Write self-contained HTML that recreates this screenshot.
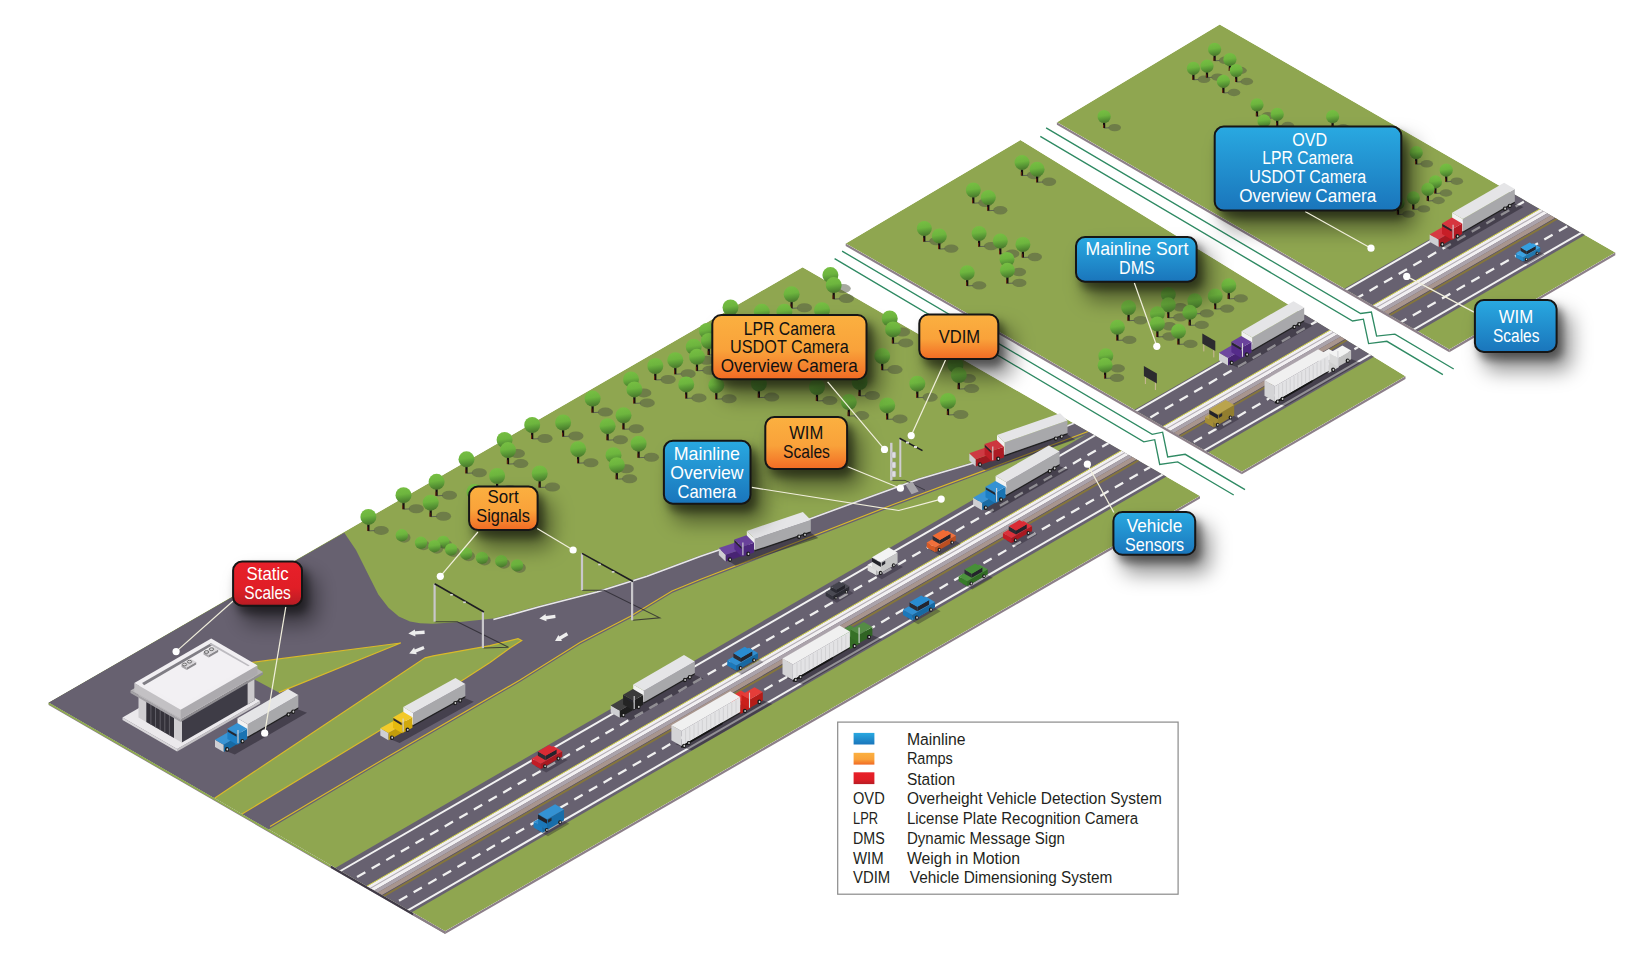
<!DOCTYPE html>
<html><head><meta charset="utf-8"><style>
html,body{margin:0;padding:0;background:#fff;width:1647px;height:957px;overflow:hidden;}
svg{display:block;}
text{font-family:"Liberation Sans",sans-serif;}
</style></head><body>
<svg width="1647" height="957" viewBox="0 0 1647 957">
<defs><clipPath id="cBig"><polygon points="48.6,702.5 802.6,267.3 1200.0,496.0 445.1,931.3"/></clipPath>
<clipPath id="cMid"><polygon points="845.7,243.4 1020.4,140.1 1405.5,376.3 1241.8,471.7"/></clipPath>
<clipPath id="cRgt"><polygon points="1056.9,122.2 1219.7,24.4 1615.3,252.6 1449.3,349.6"/></clipPath>
<linearGradient id="gTree" x1="0" y1="0" x2="0.15" y2="1"><stop offset="0" stop-color="#78c043"/><stop offset="0.5" stop-color="#6db53e"/><stop offset="0.72" stop-color="#5c9d37"/><stop offset="1" stop-color="#4b7c2d"/></linearGradient>
<linearGradient id="gOr" x1="0" y1="0" x2="0" y2="1"><stop offset="0" stop-color="#fbb040"/><stop offset="0.55" stop-color="#f9a23a"/><stop offset="1" stop-color="#f16a24"/></linearGradient>
<linearGradient id="gBl" x1="0" y1="0" x2="0" y2="1"><stop offset="0" stop-color="#29a9e1"/><stop offset="1" stop-color="#1a75bb"/></linearGradient>
<linearGradient id="gRd" x1="0" y1="0" x2="0" y2="1"><stop offset="0" stop-color="#e8202a"/><stop offset="0.6" stop-color="#e01e26"/><stop offset="1" stop-color="#b71c24"/></linearGradient>
<filter id="fSh" x="-50%" y="-50%" width="200%" height="200%"><feGaussianBlur stdDeviation="4"/></filter><filter id="fSh2" x="-60%" y="-60%" width="220%" height="220%"><feGaussianBlur stdDeviation="10"/></filter></defs>
<rect width="1647" height="957" fill="#fff"/>
<polygon points="48.6,702.5 445.1,931.3 445.1,933.9 48.6,705.1" fill="#8d8089"/>
<polygon points="445.1,931.3 1200.0,496.0 1200.0,498.6 445.1,933.9" fill="#8d8089"/>
<polygon points="48.6,702.5 330.9,865.5 330.9,867.3 48.6,704.3" fill="#8fb04a"/>
<polygon points="330.9,865.5 413.2,913.0 413.2,915.4 330.9,867.9" fill="#3f3a46"/>
<polygon points="413.2,913.0 445.1,931.4 445.1,933.8 413.2,915.4" fill="#8a7f86"/>
<polygon points="845.7,243.4 1241.8,471.7 1241.8,474.3 845.7,246.0" fill="#8d8089"/>
<polygon points="1241.8,471.7 1405.5,376.3 1405.5,378.9 1241.8,474.3" fill="#8d8089"/>
<polygon points="1056.9,122.2 1449.3,349.6 1449.3,352.2 1056.9,124.8" fill="#8d8089"/>
<polygon points="1449.3,349.6 1615.3,252.6 1615.3,255.2 1449.3,352.2" fill="#8d8089"/>
<g clip-path="url(#cBig)"><polygon points="48.6,702.5 802.6,267.3 1200.0,496.0 445.1,931.3" fill="#8fa650"/><polygon points="48.6,702.5 344.3,532.8 356.0,550.0 364.0,566.0 371.0,580.0 378.3,594.6 388.5,607.8 398.8,616.6 410.0,621.5 420.0,623.3 432.4,623.8 460.0,622.0 493.4,618.6 538.5,606.1 597.0,591.0 647.1,575.2 700.0,555.6 811.0,517.4 918.6,478.2 980.5,460.0 1074.6,421.9 1120.0,448.0 1090.6,432.9 978.7,474.6 893.1,506.5 809.3,539.3 700.0,581.5 672.0,593.0 630.0,618.5 580.0,644.5 520.0,682.0 383.0,761.5 268.5,829.5 242.0,814.1 464.5,679.0 490.0,662.6 510.0,648.0 521.7,640.5 518.0,638.6 490.0,645.6 433.2,655.8 425.1,657.8 214.5,798.2" fill="#676170"/><polygon points="400.7,643.0 251.3,662.5 248.0,676.0 278.9,692.4" fill="#8fa650"/><polyline points="251.3,662.5 400.7,643.0 278.9,692.4" fill="none" stroke="#d9b92a" stroke-width="1.2"/><polyline points="214.5,798.2 425.1,657.8 433.2,655.8 490.0,645.6 518.0,638.6 521.7,640.5 510.0,648.0 490.0,662.6 464.5,679.0 242.0,814.1" fill="none" stroke="#d9b92a" stroke-width="1.2"/><polyline points="270.0,826.5 383.0,759.5 520.0,680.0 580.0,642.5 630.0,616.5 672.0,591.0 700.0,579.5 809.3,537.3 893.1,504.5 978.7,472.6 1088.0,431.5" fill="none" stroke="#d9b92a" stroke-width="1.2"/><polyline points="493.4,619.6 538.5,607.1 597.0,592.0 647.1,576.2 700.0,556.6 811.0,518.4 918.6,479.2 980.5,461.0 1074.6,422.9" fill="none" stroke="#e9e9e9" stroke-width="1.6"/><polygon points="317.9,878.0 1114.7,418.0 1191.3,462.2 394.6,922.2" fill="#676170"/><polyline points="323.1,881.0 1119.9,421.0" fill="none" stroke="#f2f2f2" stroke-width="2.0"/><polyline points="390.9,920.1 1187.6,460.1" fill="none" stroke="#f2f2f2" stroke-width="2.0"/><polyline points="336.6,888.8 1133.3,428.8" fill="none" stroke="#f0f0f0" stroke-width="2.3" stroke-dasharray="9.6 7.27" stroke-dashoffset="10.13"/><polyline points="378.1,912.8 1174.9,452.8" fill="none" stroke="#f0f0f0" stroke-width="2.3" stroke-dasharray="9.6 7.27" stroke-dashoffset="9.62"/><polygon points="349.6,896.3 1146.4,436.3 1153.6,440.5 356.9,900.5" fill="#f2f0f2"/><polygon points="352.6,898.0 1149.3,438.0 1150.4,438.6 353.7,898.6" fill="#b2acb4"/><polygon points="356.9,900.5 1153.6,440.5 1157.3,442.6 360.5,902.6" fill="#aba3ab"/><polygon points="360.5,902.6 1157.3,442.6 1161.6,445.1 364.9,905.1" fill="#a8958d"/><polygon points="364.9,905.1 1161.6,445.1 1162.3,445.5 365.6,905.5" fill="#5f5660"/><polygon points="365.6,905.5 1162.3,445.5 1164.3,446.6 367.6,906.6" fill="#85763c"/><polyline points="349.5,896.2 1146.2,436.2" fill="none" stroke="#cfd04a" stroke-width="1.0"/></g>
<g clip-path="url(#cMid)"><polygon points="845.7,243.4 1020.4,140.1 1405.5,376.3 1241.8,471.7" fill="#8fa650"/><polygon points="1117.5,419.6 1325.4,299.6 1399.2,342.2 1191.3,462.2" fill="#676170"/><polyline points="1119.4,420.7 1327.2,300.7" fill="none" stroke="#f2f2f2" stroke-width="2.0"/><polyline points="1187.6,460.1 1395.4,340.1" fill="none" stroke="#f2f2f2" stroke-width="2.0"/><polyline points="1132.0,428.0 1339.8,308.0" fill="none" stroke="#f0f0f0" stroke-width="2.3" stroke-dasharray="9.6 7.27" stroke-dashoffset="12.55"/><polyline points="1174.9,452.8 1382.7,332.8" fill="none" stroke="#f0f0f0" stroke-width="2.3" stroke-dasharray="9.6 7.27" stroke-dashoffset="12.04"/><polygon points="1146.4,436.3 1354.2,316.3 1361.5,320.5 1153.6,440.5" fill="#f2f0f2"/><polygon points="1149.3,438.0 1357.2,318.0 1358.3,318.6 1150.4,438.6" fill="#b2acb4"/><polygon points="1153.6,440.5 1361.5,320.5 1365.1,322.6 1157.3,442.6" fill="#aba3ab"/><polygon points="1157.3,442.6 1365.1,322.6 1369.5,325.1 1161.6,445.1" fill="#a8958d"/><polygon points="1161.6,445.1 1369.5,325.1 1370.2,325.5 1162.3,445.5" fill="#5f5660"/><polygon points="1162.3,445.5 1370.2,325.5 1372.1,326.6 1164.3,446.6" fill="#85763c"/><polyline points="1146.2,436.2 1354.0,316.2" fill="none" stroke="#cfd04a" stroke-width="1.0"/></g>
<g clip-path="url(#cRgt)"><polygon points="1056.9,122.2 1219.7,24.4 1615.3,252.6 1449.3,349.6" fill="#8fa650"/><polygon points="1325.4,299.6 1533.2,179.6 1607.0,222.2 1399.2,342.2" fill="#676170"/><polyline points="1327.2,300.7 1535.0,180.7" fill="none" stroke="#f2f2f2" stroke-width="2.0"/><polyline points="1395.4,340.1 1603.3,220.1" fill="none" stroke="#f2f2f2" stroke-width="2.0"/><polyline points="1339.8,308.0 1547.7,188.0" fill="none" stroke="#f0f0f0" stroke-width="2.3" stroke-dasharray="9.6 7.27" stroke-dashoffset="16.37"/><polyline points="1382.7,332.8 1590.6,212.8" fill="none" stroke="#f0f0f0" stroke-width="2.3" stroke-dasharray="9.6 7.27" stroke-dashoffset="15.86"/><polygon points="1354.2,316.3 1562.1,196.3 1569.3,200.5 1361.5,320.5" fill="#f2f0f2"/><polygon points="1357.2,318.0 1565.0,198.0 1566.1,198.6 1358.3,318.6" fill="#b2acb4"/><polygon points="1361.5,320.5 1569.3,200.5 1573.0,202.6 1365.1,322.6" fill="#aba3ab"/><polygon points="1365.1,322.6 1573.0,202.6 1577.3,205.1 1369.5,325.1" fill="#a8958d"/><polygon points="1369.5,325.1 1577.3,205.1 1578.0,205.5 1370.2,325.5" fill="#5f5660"/><polygon points="1370.2,325.5 1578.0,205.5 1580.0,206.6 1372.1,326.6" fill="#85763c"/><polyline points="1354.0,316.2 1561.9,196.2" fill="none" stroke="#cfd04a" stroke-width="1.0"/></g>
<polyline points="842.1,251.1 1152.2,434.3 1162.6,432.2 1167.7,456.9 1185.2,454.3 1245.0,489.7" fill="none" stroke="#2f8a63" stroke-width="1.35"/>
<polyline points="834.6,258.6 1143.8,441.8 1154.7,439.7 1159.7,464.4 1177.7,461.9 1233.7,495.0" fill="none" stroke="#2f8a63" stroke-width="1.35"/>
<polyline points="1046.1,127.9 1360.6,313.5 1371.4,312.1 1376.6,336.1 1394.9,334.2 1453.7,369.0" fill="none" stroke="#2f8a63" stroke-width="1.35"/>
<polyline points="1040.3,136.4 1352.6,321.0 1363.4,319.2 1368.6,343.6 1386.9,341.3 1442.9,374.7" fill="none" stroke="#2f8a63" stroke-width="1.35"/>
<ellipse cx="404.3" cy="537.8" rx="6.2" ry="5.0" fill="#4d5340" fill-opacity="0.45"/><circle cx="401.8" cy="535.3" r="6.2" fill="url(#gTree)"/>
<ellipse cx="423.5" cy="545.3" rx="6.2" ry="5.0" fill="#4d5340" fill-opacity="0.45"/><circle cx="421.0" cy="542.8" r="6.2" fill="url(#gTree)"/>
<ellipse cx="445.8" cy="544.5" rx="6.2" ry="5.0" fill="#4d5340" fill-opacity="0.45"/><circle cx="443.3" cy="542.0" r="6.2" fill="url(#gTree)"/>
<ellipse cx="436.9" cy="548.7" rx="6.2" ry="5.0" fill="#4d5340" fill-opacity="0.45"/><circle cx="434.4" cy="546.2" r="6.2" fill="url(#gTree)"/>
<ellipse cx="453.6" cy="552.0" rx="6.2" ry="5.0" fill="#4d5340" fill-opacity="0.45"/><circle cx="451.1" cy="549.5" r="6.2" fill="url(#gTree)"/>
<ellipse cx="468.7" cy="556.2" rx="6.2" ry="5.0" fill="#4d5340" fill-opacity="0.45"/><circle cx="466.2" cy="553.7" r="6.2" fill="url(#gTree)"/>
<ellipse cx="484.5" cy="560.4" rx="6.2" ry="5.0" fill="#4d5340" fill-opacity="0.45"/><circle cx="482.0" cy="557.9" r="6.2" fill="url(#gTree)"/>
<ellipse cx="503.8" cy="563.7" rx="6.2" ry="5.0" fill="#4d5340" fill-opacity="0.45"/><circle cx="501.3" cy="561.2" r="6.2" fill="url(#gTree)"/>
<ellipse cx="519.6" cy="567.9" rx="6.2" ry="5.0" fill="#4d5340" fill-opacity="0.45"/><circle cx="517.1" cy="565.4" r="6.2" fill="url(#gTree)"/>
<ellipse cx="381.2" cy="530.4" rx="7.6" ry="4.5" fill="#4d5340" fill-opacity="0.5"/><line x1="368.4" y1="530.9" x2="374.8" y2="530.6" stroke="#5d6450" stroke-width="1"/>
<ellipse cx="416.3" cy="508.7" rx="7.6" ry="4.5" fill="#4d5340" fill-opacity="0.5"/><line x1="403.5" y1="509.2" x2="409.9" y2="508.9" stroke="#5d6450" stroke-width="1"/>
<ellipse cx="449.4" cy="495.3" rx="7.6" ry="4.5" fill="#4d5340" fill-opacity="0.5"/><line x1="436.6" y1="495.8" x2="443.0" y2="495.5" stroke="#5d6450" stroke-width="1"/>
<ellipse cx="443.5" cy="516.2" rx="7.6" ry="4.5" fill="#4d5340" fill-opacity="0.5"/><line x1="430.7" y1="516.7" x2="437.1" y2="516.4" stroke="#5d6450" stroke-width="1"/>
<ellipse cx="479.3" cy="472.8" rx="7.6" ry="4.5" fill="#4d5340" fill-opacity="0.5"/><line x1="466.5" y1="473.3" x2="472.9" y2="473.0" stroke="#5d6450" stroke-width="1"/>
<ellipse cx="517.4" cy="453.5" rx="7.6" ry="4.5" fill="#4d5340" fill-opacity="0.5"/><line x1="504.6" y1="454.0" x2="511.0" y2="453.7" stroke="#5d6450" stroke-width="1"/>
<ellipse cx="520.8" cy="463.6" rx="7.6" ry="4.5" fill="#4d5340" fill-opacity="0.5"/><line x1="508.0" y1="464.1" x2="514.4" y2="463.8" stroke="#5d6450" stroke-width="1"/>
<ellipse cx="509.9" cy="489.5" rx="7.6" ry="4.5" fill="#4d5340" fill-opacity="0.5"/><line x1="497.1" y1="490.0" x2="503.5" y2="489.7" stroke="#5d6450" stroke-width="1"/>
<ellipse cx="487.3" cy="505.4" rx="7.6" ry="4.5" fill="#4d5340" fill-opacity="0.5"/><line x1="474.5" y1="505.9" x2="480.9" y2="505.6" stroke="#5d6450" stroke-width="1"/>
<ellipse cx="552.5" cy="487.0" rx="7.6" ry="4.5" fill="#4d5340" fill-opacity="0.5"/><line x1="539.7" y1="487.5" x2="546.1" y2="487.2" stroke="#5d6450" stroke-width="1"/>
<ellipse cx="545.0" cy="438.5" rx="7.6" ry="4.5" fill="#4d5340" fill-opacity="0.5"/><line x1="532.2" y1="439.0" x2="538.6" y2="438.7" stroke="#5d6450" stroke-width="1"/>
<ellipse cx="575.9" cy="436.0" rx="7.6" ry="4.5" fill="#4d5340" fill-opacity="0.5"/><line x1="563.1" y1="436.5" x2="569.5" y2="436.2" stroke="#5d6450" stroke-width="1"/>
<ellipse cx="590.9" cy="462.7" rx="7.6" ry="4.5" fill="#4d5340" fill-opacity="0.5"/><line x1="578.1" y1="463.2" x2="584.5" y2="462.9" stroke="#5d6450" stroke-width="1"/>
<ellipse cx="605.4" cy="412.1" rx="7.6" ry="4.5" fill="#4d5340" fill-opacity="0.5"/><line x1="592.6" y1="412.6" x2="599.0" y2="412.3" stroke="#5d6450" stroke-width="1"/>
<ellipse cx="643.8" cy="392.9" rx="7.6" ry="4.5" fill="#4d5340" fill-opacity="0.5"/><line x1="631.0" y1="393.4" x2="637.4" y2="393.1" stroke="#5d6450" stroke-width="1"/>
<ellipse cx="647.2" cy="402.9" rx="7.6" ry="4.5" fill="#4d5340" fill-opacity="0.5"/><line x1="634.4" y1="403.4" x2="640.8" y2="403.1" stroke="#5d6450" stroke-width="1"/>
<ellipse cx="668.1" cy="379.5" rx="7.6" ry="4.5" fill="#4d5340" fill-opacity="0.5"/><line x1="655.3" y1="380.0" x2="661.7" y2="379.7" stroke="#5d6450" stroke-width="1"/>
<ellipse cx="688.1" cy="373.7" rx="7.6" ry="4.5" fill="#4d5340" fill-opacity="0.5"/><line x1="675.3" y1="374.2" x2="681.7" y2="373.9" stroke="#5d6450" stroke-width="1"/>
<ellipse cx="706.5" cy="360.3" rx="7.6" ry="4.5" fill="#4d5340" fill-opacity="0.5"/><line x1="693.7" y1="360.8" x2="700.1" y2="360.5" stroke="#5d6450" stroke-width="1"/>
<ellipse cx="709.8" cy="370.3" rx="7.6" ry="4.5" fill="#4d5340" fill-opacity="0.5"/><line x1="697.0" y1="370.8" x2="703.4" y2="370.5" stroke="#5d6450" stroke-width="1"/>
<ellipse cx="719.8" cy="344.4" rx="7.6" ry="4.5" fill="#4d5340" fill-opacity="0.5"/><line x1="707.0" y1="344.9" x2="713.4" y2="344.6" stroke="#5d6450" stroke-width="1"/>
<ellipse cx="721.6" cy="354.5" rx="7.6" ry="4.5" fill="#4d5340" fill-opacity="0.5"/><line x1="708.8" y1="355.0" x2="715.2" y2="354.7" stroke="#5d6450" stroke-width="1"/>
<ellipse cx="743.3" cy="321.0" rx="7.6" ry="4.5" fill="#4d5340" fill-opacity="0.5"/><line x1="730.5" y1="321.5" x2="736.9" y2="321.2" stroke="#5d6450" stroke-width="1"/>
<ellipse cx="699.0" cy="397.9" rx="7.6" ry="4.5" fill="#4d5340" fill-opacity="0.5"/><line x1="686.2" y1="398.4" x2="692.6" y2="398.1" stroke="#5d6450" stroke-width="1"/>
<ellipse cx="729.1" cy="398.7" rx="7.6" ry="4.5" fill="#4d5340" fill-opacity="0.5"/><line x1="716.3" y1="399.2" x2="722.7" y2="398.9" stroke="#5d6450" stroke-width="1"/>
<ellipse cx="636.3" cy="428.8" rx="7.6" ry="4.5" fill="#4d5340" fill-opacity="0.5"/><line x1="623.5" y1="429.3" x2="629.9" y2="429.0" stroke="#5d6450" stroke-width="1"/>
<ellipse cx="620.4" cy="439.7" rx="7.6" ry="4.5" fill="#4d5340" fill-opacity="0.5"/><line x1="607.6" y1="440.2" x2="614.0" y2="439.9" stroke="#5d6450" stroke-width="1"/>
<ellipse cx="651.4" cy="457.2" rx="7.6" ry="4.5" fill="#4d5340" fill-opacity="0.5"/><line x1="638.6" y1="457.7" x2="645.0" y2="457.4" stroke="#5d6450" stroke-width="1"/>
<ellipse cx="626.3" cy="468.7" rx="7.6" ry="4.5" fill="#4d5340" fill-opacity="0.5"/><line x1="613.5" y1="469.2" x2="619.9" y2="468.9" stroke="#5d6450" stroke-width="1"/>
<ellipse cx="629.6" cy="478.7" rx="7.6" ry="4.5" fill="#4d5340" fill-opacity="0.5"/><line x1="616.8" y1="479.2" x2="623.2" y2="478.9" stroke="#5d6450" stroke-width="1"/>
<ellipse cx="771.7" cy="397.1" rx="7.6" ry="4.5" fill="#4d5340" fill-opacity="0.5"/><line x1="758.9" y1="397.6" x2="765.3" y2="397.3" stroke="#5d6450" stroke-width="1"/>
<ellipse cx="843.2" cy="288.6" rx="7.6" ry="4.5" fill="#4d5340" fill-opacity="0.5"/><line x1="830.4" y1="289.1" x2="836.8" y2="288.8" stroke="#5d6450" stroke-width="1"/>
<ellipse cx="846.5" cy="298.6" rx="7.6" ry="4.5" fill="#4d5340" fill-opacity="0.5"/><line x1="833.7" y1="299.1" x2="840.1" y2="298.8" stroke="#5d6450" stroke-width="1"/>
<ellipse cx="804.4" cy="307.8" rx="7.6" ry="4.5" fill="#4d5340" fill-opacity="0.5"/><line x1="791.6" y1="308.3" x2="798.0" y2="308.0" stroke="#5d6450" stroke-width="1"/>
<ellipse cx="834.8" cy="323.7" rx="7.6" ry="4.5" fill="#4d5340" fill-opacity="0.5"/><line x1="822.0" y1="324.2" x2="828.4" y2="323.9" stroke="#5d6450" stroke-width="1"/>
<ellipse cx="774.6" cy="325.3" rx="7.6" ry="4.5" fill="#4d5340" fill-opacity="0.5"/><line x1="761.8" y1="325.8" x2="768.2" y2="325.5" stroke="#5d6450" stroke-width="1"/>
<ellipse cx="797.2" cy="325.3" rx="7.6" ry="4.5" fill="#4d5340" fill-opacity="0.5"/><line x1="784.4" y1="325.8" x2="790.8" y2="325.5" stroke="#5d6450" stroke-width="1"/>
<ellipse cx="902.5" cy="332.0" rx="7.6" ry="4.5" fill="#4d5340" fill-opacity="0.5"/><line x1="889.7" y1="332.5" x2="896.1" y2="332.2" stroke="#5d6450" stroke-width="1"/>
<ellipse cx="905.8" cy="342.9" rx="7.6" ry="4.5" fill="#4d5340" fill-opacity="0.5"/><line x1="893.0" y1="343.4" x2="899.4" y2="343.1" stroke="#5d6450" stroke-width="1"/>
<ellipse cx="895.0" cy="369.6" rx="7.6" ry="4.5" fill="#4d5340" fill-opacity="0.5"/><line x1="882.2" y1="370.1" x2="888.6" y2="369.8" stroke="#5d6450" stroke-width="1"/>
<ellipse cx="930.1" cy="397.2" rx="7.6" ry="4.5" fill="#4d5340" fill-opacity="0.5"/><line x1="917.3" y1="397.7" x2="923.7" y2="397.4" stroke="#5d6450" stroke-width="1"/>
<ellipse cx="829.8" cy="400.5" rx="7.6" ry="4.5" fill="#4d5340" fill-opacity="0.5"/><line x1="817.0" y1="401.0" x2="823.4" y2="400.7" stroke="#5d6450" stroke-width="1"/>
<ellipse cx="872.4" cy="395.5" rx="7.6" ry="4.5" fill="#4d5340" fill-opacity="0.5"/><line x1="859.6" y1="396.0" x2="866.0" y2="395.7" stroke="#5d6450" stroke-width="1"/>
<ellipse cx="861.6" cy="415.6" rx="7.6" ry="4.5" fill="#4d5340" fill-opacity="0.5"/><line x1="848.8" y1="416.1" x2="855.2" y2="415.8" stroke="#5d6450" stroke-width="1"/>
<ellipse cx="900.0" cy="418.9" rx="7.6" ry="4.5" fill="#4d5340" fill-opacity="0.5"/><line x1="887.2" y1="419.4" x2="893.6" y2="419.1" stroke="#5d6450" stroke-width="1"/>
<ellipse cx="960.8" cy="414.5" rx="7.6" ry="4.5" fill="#4d5340" fill-opacity="0.5"/><line x1="948.0" y1="415.0" x2="954.4" y2="414.7" stroke="#5d6450" stroke-width="1"/>
<ellipse cx="968.3" cy="378.5" rx="7.6" ry="4.5" fill="#4d5340" fill-opacity="0.5"/><line x1="955.5" y1="379.0" x2="961.9" y2="378.7" stroke="#5d6450" stroke-width="1"/>
<ellipse cx="971.6" cy="388.6" rx="7.6" ry="4.5" fill="#4d5340" fill-opacity="0.5"/><line x1="958.8" y1="389.1" x2="965.2" y2="388.8" stroke="#5d6450" stroke-width="1"/>
<rect x="829.3" y="275.1" width="2.2" height="14.0" fill="#140c10"/><rect x="829.3" y="285.2" width="0.8" height="3.9" fill="#7a2a10"/><circle cx="830.4" cy="275.1" r="8.0" fill="url(#gTree)"/>
<rect x="832.6" y="285.1" width="2.2" height="14.0" fill="#140c10"/><rect x="832.6" y="295.2" width="0.8" height="3.9" fill="#7a2a10"/><circle cx="833.7" cy="285.1" r="8.0" fill="url(#gTree)"/>
<rect x="790.5" y="294.3" width="2.2" height="14.0" fill="#140c10"/><rect x="790.5" y="304.4" width="0.8" height="3.9" fill="#7a2a10"/><circle cx="791.6" cy="294.3" r="8.0" fill="url(#gTree)"/>
<rect x="729.4" y="307.5" width="2.2" height="14.0" fill="#140c10"/><rect x="729.4" y="317.6" width="0.8" height="3.9" fill="#7a2a10"/><circle cx="730.5" cy="307.5" r="8.0" fill="url(#gTree)"/>
<rect x="820.9" y="310.2" width="2.2" height="14.0" fill="#140c10"/><rect x="820.9" y="320.3" width="0.8" height="3.9" fill="#7a2a10"/><circle cx="822.0" cy="310.2" r="8.0" fill="url(#gTree)"/>
<rect x="760.7" y="311.8" width="2.2" height="14.0" fill="#140c10"/><rect x="760.7" y="321.9" width="0.8" height="3.9" fill="#7a2a10"/><circle cx="761.8" cy="311.8" r="8.0" fill="url(#gTree)"/>
<rect x="783.3" y="311.8" width="2.2" height="14.0" fill="#140c10"/><rect x="783.3" y="321.9" width="0.8" height="3.9" fill="#7a2a10"/><circle cx="784.4" cy="311.8" r="8.0" fill="url(#gTree)"/>
<rect x="888.6" y="318.5" width="2.2" height="14.0" fill="#140c10"/><rect x="888.6" y="328.6" width="0.8" height="3.9" fill="#7a2a10"/><circle cx="889.7" cy="318.5" r="8.0" fill="url(#gTree)"/>
<rect x="891.9" y="329.4" width="2.2" height="14.0" fill="#140c10"/><rect x="891.9" y="339.5" width="0.8" height="3.9" fill="#7a2a10"/><circle cx="893.0" cy="329.4" r="8.0" fill="url(#gTree)"/>
<rect x="705.9" y="330.9" width="2.2" height="14.0" fill="#140c10"/><rect x="705.9" y="341.0" width="0.8" height="3.9" fill="#7a2a10"/><circle cx="707.0" cy="330.9" r="8.0" fill="url(#gTree)"/>
<rect x="707.7" y="341.0" width="2.2" height="14.0" fill="#140c10"/><rect x="707.7" y="351.1" width="0.8" height="3.9" fill="#7a2a10"/><circle cx="708.8" cy="341.0" r="8.0" fill="url(#gTree)"/>
<rect x="692.6" y="346.8" width="2.2" height="14.0" fill="#140c10"/><rect x="692.6" y="356.9" width="0.8" height="3.9" fill="#7a2a10"/><circle cx="693.7" cy="346.8" r="8.0" fill="url(#gTree)"/>
<rect x="881.1" y="356.1" width="2.2" height="14.0" fill="#140c10"/><rect x="881.1" y="366.2" width="0.8" height="3.9" fill="#7a2a10"/><circle cx="882.2" cy="356.1" r="8.0" fill="url(#gTree)"/>
<rect x="695.9" y="356.8" width="2.2" height="14.0" fill="#140c10"/><rect x="695.9" y="366.9" width="0.8" height="3.9" fill="#7a2a10"/><circle cx="697.0" cy="356.8" r="8.0" fill="url(#gTree)"/>
<rect x="674.2" y="360.2" width="2.2" height="14.0" fill="#140c10"/><rect x="674.2" y="370.3" width="0.8" height="3.9" fill="#7a2a10"/><circle cx="675.3" cy="360.2" r="8.0" fill="url(#gTree)"/>
<rect x="954.4" y="365.0" width="2.2" height="14.0" fill="#140c10"/><rect x="954.4" y="375.1" width="0.8" height="3.9" fill="#7a2a10"/><circle cx="955.5" cy="365.0" r="8.0" fill="url(#gTree)"/>
<rect x="654.2" y="366.0" width="2.2" height="14.0" fill="#140c10"/><rect x="654.2" y="376.1" width="0.8" height="3.9" fill="#7a2a10"/><circle cx="655.3" cy="366.0" r="8.0" fill="url(#gTree)"/>
<rect x="957.7" y="375.1" width="2.2" height="14.0" fill="#140c10"/><rect x="957.7" y="385.2" width="0.8" height="3.9" fill="#7a2a10"/><circle cx="958.8" cy="375.1" r="8.0" fill="url(#gTree)"/>
<rect x="629.9" y="379.4" width="2.2" height="14.0" fill="#140c10"/><rect x="629.9" y="389.5" width="0.8" height="3.9" fill="#7a2a10"/><circle cx="631.0" cy="379.4" r="8.0" fill="url(#gTree)"/>
<rect x="858.5" y="382.0" width="2.2" height="14.0" fill="#140c10"/><rect x="858.5" y="392.1" width="0.8" height="3.9" fill="#7a2a10"/><circle cx="859.6" cy="382.0" r="8.0" fill="url(#gTree)"/>
<rect x="757.8" y="383.6" width="2.2" height="14.0" fill="#140c10"/><rect x="757.8" y="393.7" width="0.8" height="3.9" fill="#7a2a10"/><circle cx="758.9" cy="383.6" r="8.0" fill="url(#gTree)"/>
<rect x="916.2" y="383.7" width="2.2" height="14.0" fill="#140c10"/><rect x="916.2" y="393.8" width="0.8" height="3.9" fill="#7a2a10"/><circle cx="917.3" cy="383.7" r="8.0" fill="url(#gTree)"/>
<rect x="685.1" y="384.4" width="2.2" height="14.0" fill="#140c10"/><rect x="685.1" y="394.5" width="0.8" height="3.9" fill="#7a2a10"/><circle cx="686.2" cy="384.4" r="8.0" fill="url(#gTree)"/>
<rect x="715.2" y="385.2" width="2.2" height="14.0" fill="#140c10"/><rect x="715.2" y="395.3" width="0.8" height="3.9" fill="#7a2a10"/><circle cx="716.3" cy="385.2" r="8.0" fill="url(#gTree)"/>
<rect x="815.9" y="387.0" width="2.2" height="14.0" fill="#140c10"/><rect x="815.9" y="397.1" width="0.8" height="3.9" fill="#7a2a10"/><circle cx="817.0" cy="387.0" r="8.0" fill="url(#gTree)"/>
<rect x="633.3" y="389.4" width="2.2" height="14.0" fill="#140c10"/><rect x="633.3" y="399.5" width="0.8" height="3.9" fill="#7a2a10"/><circle cx="634.4" cy="389.4" r="8.0" fill="url(#gTree)"/>
<rect x="591.5" y="398.6" width="2.2" height="14.0" fill="#140c10"/><rect x="591.5" y="408.7" width="0.8" height="3.9" fill="#7a2a10"/><circle cx="592.6" cy="398.6" r="8.0" fill="url(#gTree)"/>
<rect x="946.9" y="401.0" width="2.2" height="14.0" fill="#140c10"/><rect x="946.9" y="411.1" width="0.8" height="3.9" fill="#7a2a10"/><circle cx="948.0" cy="401.0" r="8.0" fill="url(#gTree)"/>
<rect x="847.7" y="402.1" width="2.2" height="14.0" fill="#140c10"/><rect x="847.7" y="412.2" width="0.8" height="3.9" fill="#7a2a10"/><circle cx="848.8" cy="402.1" r="8.0" fill="url(#gTree)"/>
<rect x="886.1" y="405.4" width="2.2" height="14.0" fill="#140c10"/><rect x="886.1" y="415.5" width="0.8" height="3.9" fill="#7a2a10"/><circle cx="887.2" cy="405.4" r="8.0" fill="url(#gTree)"/>
<rect x="622.4" y="415.3" width="2.2" height="14.0" fill="#140c10"/><rect x="622.4" y="425.4" width="0.8" height="3.9" fill="#7a2a10"/><circle cx="623.5" cy="415.3" r="8.0" fill="url(#gTree)"/>
<rect x="562.0" y="422.5" width="2.2" height="14.0" fill="#140c10"/><rect x="562.0" y="432.6" width="0.8" height="3.9" fill="#7a2a10"/><circle cx="563.1" cy="422.5" r="8.0" fill="url(#gTree)"/>
<rect x="531.1" y="425.0" width="2.2" height="14.0" fill="#140c10"/><rect x="531.1" y="435.1" width="0.8" height="3.9" fill="#7a2a10"/><circle cx="532.2" cy="425.0" r="8.0" fill="url(#gTree)"/>
<rect x="606.5" y="426.2" width="2.2" height="14.0" fill="#140c10"/><rect x="606.5" y="436.3" width="0.8" height="3.9" fill="#7a2a10"/><circle cx="607.6" cy="426.2" r="8.0" fill="url(#gTree)"/>
<rect x="503.5" y="440.0" width="2.2" height="14.0" fill="#140c10"/><rect x="503.5" y="450.1" width="0.8" height="3.9" fill="#7a2a10"/><circle cx="504.6" cy="440.0" r="8.0" fill="url(#gTree)"/>
<rect x="637.5" y="443.7" width="2.2" height="14.0" fill="#140c10"/><rect x="637.5" y="453.8" width="0.8" height="3.9" fill="#7a2a10"/><circle cx="638.6" cy="443.7" r="8.0" fill="url(#gTree)"/>
<rect x="577.0" y="449.2" width="2.2" height="14.0" fill="#140c10"/><rect x="577.0" y="459.3" width="0.8" height="3.9" fill="#7a2a10"/><circle cx="578.1" cy="449.2" r="8.0" fill="url(#gTree)"/>
<rect x="506.9" y="450.1" width="2.2" height="14.0" fill="#140c10"/><rect x="506.9" y="460.2" width="0.8" height="3.9" fill="#7a2a10"/><circle cx="508.0" cy="450.1" r="8.0" fill="url(#gTree)"/>
<rect x="612.4" y="455.2" width="2.2" height="14.0" fill="#140c10"/><rect x="612.4" y="465.3" width="0.8" height="3.9" fill="#7a2a10"/><circle cx="613.5" cy="455.2" r="8.0" fill="url(#gTree)"/>
<rect x="465.4" y="459.3" width="2.2" height="14.0" fill="#140c10"/><rect x="465.4" y="469.4" width="0.8" height="3.9" fill="#7a2a10"/><circle cx="466.5" cy="459.3" r="8.0" fill="url(#gTree)"/>
<rect x="615.7" y="465.2" width="2.2" height="14.0" fill="#140c10"/><rect x="615.7" y="475.3" width="0.8" height="3.9" fill="#7a2a10"/><circle cx="616.8" cy="465.2" r="8.0" fill="url(#gTree)"/>
<rect x="538.6" y="473.5" width="2.2" height="14.0" fill="#140c10"/><rect x="538.6" y="483.6" width="0.8" height="3.9" fill="#7a2a10"/><circle cx="539.7" cy="473.5" r="8.0" fill="url(#gTree)"/>
<rect x="496.0" y="476.0" width="2.2" height="14.0" fill="#140c10"/><rect x="496.0" y="486.1" width="0.8" height="3.9" fill="#7a2a10"/><circle cx="497.1" cy="476.0" r="8.0" fill="url(#gTree)"/>
<rect x="435.5" y="481.8" width="2.2" height="14.0" fill="#140c10"/><rect x="435.5" y="491.9" width="0.8" height="3.9" fill="#7a2a10"/><circle cx="436.6" cy="481.8" r="8.0" fill="url(#gTree)"/>
<rect x="473.4" y="491.9" width="2.2" height="14.0" fill="#140c10"/><rect x="473.4" y="502.0" width="0.8" height="3.9" fill="#7a2a10"/><circle cx="474.5" cy="491.9" r="8.0" fill="url(#gTree)"/>
<rect x="402.4" y="495.2" width="2.2" height="14.0" fill="#140c10"/><rect x="402.4" y="505.3" width="0.8" height="3.9" fill="#7a2a10"/><circle cx="403.5" cy="495.2" r="8.0" fill="url(#gTree)"/>
<rect x="429.6" y="502.7" width="2.2" height="14.0" fill="#140c10"/><rect x="429.6" y="512.8" width="0.8" height="3.9" fill="#7a2a10"/><circle cx="430.7" cy="502.7" r="8.0" fill="url(#gTree)"/>
<rect x="367.3" y="516.9" width="2.2" height="14.0" fill="#140c10"/><rect x="367.3" y="527.0" width="0.8" height="3.9" fill="#7a2a10"/><circle cx="368.4" cy="516.9" r="8.0" fill="url(#gTree)"/>
<ellipse cx="1034.0" cy="175.1" rx="7.1" ry="4.2" fill="#4d5340" fill-opacity="0.5"/><line x1="1022.0" y1="175.6" x2="1028.0" y2="175.3" stroke="#5d6450" stroke-width="1"/>
<ellipse cx="1049.1" cy="181.8" rx="7.1" ry="4.2" fill="#4d5340" fill-opacity="0.5"/><line x1="1037.1" y1="182.3" x2="1043.1" y2="182.0" stroke="#5d6450" stroke-width="1"/>
<ellipse cx="985.3" cy="202.7" rx="7.1" ry="4.2" fill="#4d5340" fill-opacity="0.5"/><line x1="973.3" y1="203.2" x2="979.3" y2="202.9" stroke="#5d6450" stroke-width="1"/>
<ellipse cx="1000.3" cy="210.2" rx="7.1" ry="4.2" fill="#4d5340" fill-opacity="0.5"/><line x1="988.3" y1="210.7" x2="994.3" y2="210.4" stroke="#5d6450" stroke-width="1"/>
<ellipse cx="936.3" cy="241.1" rx="7.1" ry="4.2" fill="#4d5340" fill-opacity="0.5"/><line x1="924.3" y1="241.6" x2="930.3" y2="241.3" stroke="#5d6450" stroke-width="1"/>
<ellipse cx="951.3" cy="248.6" rx="7.1" ry="4.2" fill="#4d5340" fill-opacity="0.5"/><line x1="939.3" y1="249.1" x2="945.3" y2="248.8" stroke="#5d6450" stroke-width="1"/>
<ellipse cx="991.1" cy="246.1" rx="7.1" ry="4.2" fill="#4d5340" fill-opacity="0.5"/><line x1="979.1" y1="246.6" x2="985.1" y2="246.3" stroke="#5d6450" stroke-width="1"/>
<ellipse cx="1012.3" cy="253.7" rx="7.1" ry="4.2" fill="#4d5340" fill-opacity="0.5"/><line x1="1000.3" y1="254.2" x2="1006.3" y2="253.9" stroke="#5d6450" stroke-width="1"/>
<ellipse cx="1034.9" cy="257.0" rx="7.1" ry="4.2" fill="#4d5340" fill-opacity="0.5"/><line x1="1022.9" y1="257.5" x2="1028.9" y2="257.2" stroke="#5d6450" stroke-width="1"/>
<ellipse cx="1019.0" cy="272.0" rx="7.1" ry="4.2" fill="#4d5340" fill-opacity="0.5"/><line x1="1007.0" y1="272.5" x2="1013.0" y2="272.2" stroke="#5d6450" stroke-width="1"/>
<ellipse cx="1019.4" cy="282.9" rx="7.1" ry="4.2" fill="#4d5340" fill-opacity="0.5"/><line x1="1007.4" y1="283.4" x2="1013.4" y2="283.1" stroke="#5d6450" stroke-width="1"/>
<ellipse cx="979.2" cy="285.4" rx="7.1" ry="4.2" fill="#4d5340" fill-opacity="0.5"/><line x1="967.2" y1="285.9" x2="973.2" y2="285.6" stroke="#5d6450" stroke-width="1"/>
<ellipse cx="1180.3" cy="307.2" rx="7.1" ry="4.2" fill="#4d5340" fill-opacity="0.5"/><line x1="1168.3" y1="307.7" x2="1174.3" y2="307.4" stroke="#5d6450" stroke-width="1"/>
<ellipse cx="1180.3" cy="317.4" rx="7.1" ry="4.2" fill="#4d5340" fill-opacity="0.5"/><line x1="1168.3" y1="317.9" x2="1174.3" y2="317.6" stroke="#5d6450" stroke-width="1"/>
<ellipse cx="1206.8" cy="313.4" rx="7.1" ry="4.2" fill="#4d5340" fill-opacity="0.5"/><line x1="1194.8" y1="313.9" x2="1200.8" y2="313.6" stroke="#5d6450" stroke-width="1"/>
<ellipse cx="1227.2" cy="308.6" rx="7.1" ry="4.2" fill="#4d5340" fill-opacity="0.5"/><line x1="1215.2" y1="309.1" x2="1221.2" y2="308.8" stroke="#5d6450" stroke-width="1"/>
<ellipse cx="1240.8" cy="298.4" rx="7.1" ry="4.2" fill="#4d5340" fill-opacity="0.5"/><line x1="1228.8" y1="298.9" x2="1234.8" y2="298.6" stroke="#5d6450" stroke-width="1"/>
<ellipse cx="1140.6" cy="320.2" rx="7.1" ry="4.2" fill="#4d5340" fill-opacity="0.5"/><line x1="1128.6" y1="320.7" x2="1134.6" y2="320.4" stroke="#5d6450" stroke-width="1"/>
<ellipse cx="1169.4" cy="326.3" rx="7.1" ry="4.2" fill="#4d5340" fill-opacity="0.5"/><line x1="1157.4" y1="326.8" x2="1163.4" y2="326.5" stroke="#5d6450" stroke-width="1"/>
<ellipse cx="1169.4" cy="336.5" rx="7.1" ry="4.2" fill="#4d5340" fill-opacity="0.5"/><line x1="1157.4" y1="337.0" x2="1163.4" y2="336.7" stroke="#5d6450" stroke-width="1"/>
<ellipse cx="1201.8" cy="324.9" rx="7.1" ry="4.2" fill="#4d5340" fill-opacity="0.5"/><line x1="1189.8" y1="325.4" x2="1195.8" y2="325.1" stroke="#5d6450" stroke-width="1"/>
<ellipse cx="1190.5" cy="343.9" rx="7.1" ry="4.2" fill="#4d5340" fill-opacity="0.5"/><line x1="1178.5" y1="344.4" x2="1184.5" y2="344.1" stroke="#5d6450" stroke-width="1"/>
<ellipse cx="1129.4" cy="339.9" rx="7.1" ry="4.2" fill="#4d5340" fill-opacity="0.5"/><line x1="1117.4" y1="340.4" x2="1123.4" y2="340.1" stroke="#5d6450" stroke-width="1"/>
<ellipse cx="1117.8" cy="368.4" rx="7.1" ry="4.2" fill="#4d5340" fill-opacity="0.5"/><line x1="1105.8" y1="368.9" x2="1111.8" y2="368.6" stroke="#5d6450" stroke-width="1"/>
<ellipse cx="1117.1" cy="377.9" rx="7.1" ry="4.2" fill="#4d5340" fill-opacity="0.5"/><line x1="1105.1" y1="378.4" x2="1111.1" y2="378.1" stroke="#5d6450" stroke-width="1"/>
<rect x="1020.9" y="162.5" width="2.2" height="13.1" fill="#140c10"/><rect x="1020.9" y="171.9" width="0.8" height="3.7" fill="#7a2a10"/><circle cx="1022.0" cy="162.5" r="7.5" fill="url(#gTree)"/>
<rect x="1036.0" y="169.2" width="2.2" height="13.1" fill="#140c10"/><rect x="1036.0" y="178.6" width="0.8" height="3.7" fill="#7a2a10"/><circle cx="1037.1" cy="169.2" r="7.5" fill="url(#gTree)"/>
<rect x="972.2" y="190.1" width="2.2" height="13.1" fill="#140c10"/><rect x="972.2" y="199.5" width="0.8" height="3.7" fill="#7a2a10"/><circle cx="973.3" cy="190.1" r="7.5" fill="url(#gTree)"/>
<rect x="987.2" y="197.6" width="2.2" height="13.1" fill="#140c10"/><rect x="987.2" y="207.0" width="0.8" height="3.7" fill="#7a2a10"/><circle cx="988.3" cy="197.6" r="7.5" fill="url(#gTree)"/>
<rect x="923.2" y="228.5" width="2.2" height="13.1" fill="#140c10"/><rect x="923.2" y="237.9" width="0.8" height="3.7" fill="#7a2a10"/><circle cx="924.3" cy="228.5" r="7.5" fill="url(#gTree)"/>
<rect x="978.0" y="233.5" width="2.2" height="13.1" fill="#140c10"/><rect x="978.0" y="242.9" width="0.8" height="3.7" fill="#7a2a10"/><circle cx="979.1" cy="233.5" r="7.5" fill="url(#gTree)"/>
<rect x="938.2" y="236.0" width="2.2" height="13.1" fill="#140c10"/><rect x="938.2" y="245.4" width="0.8" height="3.7" fill="#7a2a10"/><circle cx="939.3" cy="236.0" r="7.5" fill="url(#gTree)"/>
<rect x="999.2" y="241.1" width="2.2" height="13.1" fill="#140c10"/><rect x="999.2" y="250.5" width="0.8" height="3.7" fill="#7a2a10"/><circle cx="1000.3" cy="241.1" r="7.5" fill="url(#gTree)"/>
<rect x="1021.8" y="244.4" width="2.2" height="13.1" fill="#140c10"/><rect x="1021.8" y="253.8" width="0.8" height="3.7" fill="#7a2a10"/><circle cx="1022.9" cy="244.4" r="7.5" fill="url(#gTree)"/>
<rect x="1005.9" y="259.4" width="2.2" height="13.1" fill="#140c10"/><rect x="1005.9" y="268.8" width="0.8" height="3.7" fill="#7a2a10"/><circle cx="1007.0" cy="259.4" r="7.5" fill="url(#gTree)"/>
<rect x="1006.3" y="270.3" width="2.2" height="13.1" fill="#140c10"/><rect x="1006.3" y="279.8" width="0.8" height="3.7" fill="#7a2a10"/><circle cx="1007.4" cy="270.3" r="7.5" fill="url(#gTree)"/>
<rect x="966.1" y="272.8" width="2.2" height="13.1" fill="#140c10"/><rect x="966.1" y="282.2" width="0.8" height="3.7" fill="#7a2a10"/><circle cx="967.2" cy="272.8" r="7.5" fill="url(#gTree)"/>
<rect x="1227.7" y="285.8" width="2.2" height="13.1" fill="#140c10"/><rect x="1227.7" y="295.2" width="0.8" height="3.7" fill="#7a2a10"/><circle cx="1228.8" cy="285.8" r="7.5" fill="url(#gTree)"/>
<rect x="1167.2" y="294.6" width="2.2" height="13.1" fill="#140c10"/><rect x="1167.2" y="304.1" width="0.8" height="3.7" fill="#7a2a10"/><circle cx="1168.3" cy="294.6" r="7.5" fill="url(#gTree)"/>
<rect x="1214.1" y="296.0" width="2.2" height="13.1" fill="#140c10"/><rect x="1214.1" y="305.4" width="0.8" height="3.7" fill="#7a2a10"/><circle cx="1215.2" cy="296.0" r="7.5" fill="url(#gTree)"/>
<rect x="1193.7" y="300.8" width="2.2" height="13.1" fill="#140c10"/><rect x="1193.7" y="310.2" width="0.8" height="3.7" fill="#7a2a10"/><circle cx="1194.8" cy="300.8" r="7.5" fill="url(#gTree)"/>
<rect x="1167.2" y="304.8" width="2.2" height="13.1" fill="#140c10"/><rect x="1167.2" y="314.2" width="0.8" height="3.7" fill="#7a2a10"/><circle cx="1168.3" cy="304.8" r="7.5" fill="url(#gTree)"/>
<rect x="1127.5" y="307.6" width="2.2" height="13.1" fill="#140c10"/><rect x="1127.5" y="317.1" width="0.8" height="3.7" fill="#7a2a10"/><circle cx="1128.6" cy="307.6" r="7.5" fill="url(#gTree)"/>
<rect x="1188.7" y="312.3" width="2.2" height="13.1" fill="#140c10"/><rect x="1188.7" y="321.8" width="0.8" height="3.7" fill="#7a2a10"/><circle cx="1189.8" cy="312.3" r="7.5" fill="url(#gTree)"/>
<rect x="1156.3" y="313.7" width="2.2" height="13.1" fill="#140c10"/><rect x="1156.3" y="323.1" width="0.8" height="3.7" fill="#7a2a10"/><circle cx="1157.4" cy="313.7" r="7.5" fill="url(#gTree)"/>
<rect x="1156.3" y="323.9" width="2.2" height="13.1" fill="#140c10"/><rect x="1156.3" y="333.3" width="0.8" height="3.7" fill="#7a2a10"/><circle cx="1157.4" cy="323.9" r="7.5" fill="url(#gTree)"/>
<rect x="1116.3" y="327.3" width="2.2" height="13.1" fill="#140c10"/><rect x="1116.3" y="336.8" width="0.8" height="3.7" fill="#7a2a10"/><circle cx="1117.4" cy="327.3" r="7.5" fill="url(#gTree)"/>
<rect x="1177.4" y="331.3" width="2.2" height="13.1" fill="#140c10"/><rect x="1177.4" y="340.8" width="0.8" height="3.7" fill="#7a2a10"/><circle cx="1178.5" cy="331.3" r="7.5" fill="url(#gTree)"/>
<rect x="1104.7" y="355.8" width="2.2" height="13.1" fill="#140c10"/><rect x="1104.7" y="365.2" width="0.8" height="3.7" fill="#7a2a10"/><circle cx="1105.8" cy="355.8" r="7.5" fill="url(#gTree)"/>
<rect x="1104.0" y="365.3" width="2.2" height="13.1" fill="#140c10"/><rect x="1104.0" y="374.8" width="0.8" height="3.7" fill="#7a2a10"/><circle cx="1105.1" cy="365.3" r="7.5" fill="url(#gTree)"/>
<ellipse cx="1225.2" cy="60.3" rx="6.3" ry="3.7" fill="#4d5340" fill-opacity="0.5"/><line x1="1214.6" y1="60.8" x2="1219.9" y2="60.5" stroke="#5d6450" stroke-width="1"/>
<ellipse cx="1240.5" cy="70.5" rx="6.3" ry="3.7" fill="#4d5340" fill-opacity="0.5"/><line x1="1229.9" y1="71.0" x2="1235.2" y2="70.8" stroke="#5d6450" stroke-width="1"/>
<ellipse cx="1204.0" cy="79.3" rx="6.3" ry="3.7" fill="#4d5340" fill-opacity="0.5"/><line x1="1193.4" y1="79.8" x2="1198.7" y2="79.5" stroke="#5d6450" stroke-width="1"/>
<ellipse cx="1217.6" cy="77.1" rx="6.3" ry="3.7" fill="#4d5340" fill-opacity="0.5"/><line x1="1207.0" y1="77.6" x2="1212.3" y2="77.3" stroke="#5d6450" stroke-width="1"/>
<ellipse cx="1246.8" cy="81.5" rx="6.3" ry="3.7" fill="#4d5340" fill-opacity="0.5"/><line x1="1236.2" y1="82.0" x2="1241.5" y2="81.8" stroke="#5d6450" stroke-width="1"/>
<ellipse cx="1234.0" cy="92.5" rx="6.3" ry="3.7" fill="#4d5340" fill-opacity="0.5"/><line x1="1223.4" y1="93.0" x2="1228.7" y2="92.7" stroke="#5d6450" stroke-width="1"/>
<ellipse cx="1114.7" cy="127.6" rx="6.3" ry="3.7" fill="#4d5340" fill-opacity="0.5"/><line x1="1104.1" y1="128.1" x2="1109.4" y2="127.8" stroke="#5d6450" stroke-width="1"/>
<ellipse cx="1267.6" cy="115.8" rx="6.3" ry="3.7" fill="#4d5340" fill-opacity="0.5"/><line x1="1257.0" y1="116.3" x2="1262.3" y2="116.0" stroke="#5d6450" stroke-width="1"/>
<ellipse cx="1287.8" cy="125.5" rx="6.3" ry="3.7" fill="#4d5340" fill-opacity="0.5"/><line x1="1277.2" y1="126.0" x2="1282.5" y2="125.7" stroke="#5d6450" stroke-width="1"/>
<ellipse cx="1274.6" cy="132.0" rx="6.3" ry="3.7" fill="#4d5340" fill-opacity="0.5"/><line x1="1264.0" y1="132.5" x2="1269.3" y2="132.2" stroke="#5d6450" stroke-width="1"/>
<ellipse cx="1343.2" cy="127.8" rx="6.3" ry="3.7" fill="#4d5340" fill-opacity="0.5"/><line x1="1332.6" y1="128.2" x2="1337.9" y2="128.0" stroke="#5d6450" stroke-width="1"/>
<ellipse cx="1426.8" cy="163.8" rx="6.3" ry="3.7" fill="#4d5340" fill-opacity="0.5"/><line x1="1416.2" y1="164.2" x2="1421.5" y2="163.9" stroke="#5d6450" stroke-width="1"/>
<ellipse cx="1456.8" cy="181.2" rx="6.3" ry="3.7" fill="#4d5340" fill-opacity="0.5"/><line x1="1446.2" y1="181.8" x2="1451.5" y2="181.4" stroke="#5d6450" stroke-width="1"/>
<ellipse cx="1446.0" cy="193.0" rx="6.3" ry="3.7" fill="#4d5340" fill-opacity="0.5"/><line x1="1435.4" y1="193.5" x2="1440.7" y2="193.2" stroke="#5d6450" stroke-width="1"/>
<ellipse cx="1438.5" cy="200.5" rx="6.3" ry="3.7" fill="#4d5340" fill-opacity="0.5"/><line x1="1427.9" y1="201.0" x2="1433.2" y2="200.7" stroke="#5d6450" stroke-width="1"/>
<ellipse cx="1423.9" cy="208.9" rx="6.3" ry="3.7" fill="#4d5340" fill-opacity="0.5"/><line x1="1413.3" y1="209.4" x2="1418.6" y2="209.1" stroke="#5d6450" stroke-width="1"/>
<ellipse cx="1408.6" cy="214.1" rx="6.3" ry="3.7" fill="#4d5340" fill-opacity="0.5"/><line x1="1398.0" y1="214.6" x2="1403.3" y2="214.2" stroke="#5d6450" stroke-width="1"/>
<rect x="1213.5" y="49.3" width="2.2" height="11.5" fill="#140c10"/><rect x="1213.5" y="57.6" width="0.8" height="3.2" fill="#7a2a10"/><circle cx="1214.6" cy="49.3" r="6.6" fill="url(#gTree)"/>
<rect x="1228.8" y="59.5" width="2.2" height="11.5" fill="#140c10"/><rect x="1228.8" y="67.8" width="0.8" height="3.2" fill="#7a2a10"/><circle cx="1229.9" cy="59.5" r="6.6" fill="url(#gTree)"/>
<rect x="1205.9" y="66.1" width="2.2" height="11.5" fill="#140c10"/><rect x="1205.9" y="74.4" width="0.8" height="3.2" fill="#7a2a10"/><circle cx="1207.0" cy="66.1" r="6.6" fill="url(#gTree)"/>
<rect x="1192.3" y="68.3" width="2.2" height="11.5" fill="#140c10"/><rect x="1192.3" y="76.6" width="0.8" height="3.2" fill="#7a2a10"/><circle cx="1193.4" cy="68.3" r="6.6" fill="url(#gTree)"/>
<rect x="1235.1" y="70.5" width="2.2" height="11.5" fill="#140c10"/><rect x="1235.1" y="78.8" width="0.8" height="3.2" fill="#7a2a10"/><circle cx="1236.2" cy="70.5" r="6.6" fill="url(#gTree)"/>
<rect x="1222.3" y="81.4" width="2.2" height="11.5" fill="#140c10"/><rect x="1222.3" y="89.7" width="0.8" height="3.2" fill="#7a2a10"/><circle cx="1223.4" cy="81.4" r="6.6" fill="url(#gTree)"/>
<rect x="1255.9" y="104.8" width="2.2" height="11.5" fill="#140c10"/><rect x="1255.9" y="113.1" width="0.8" height="3.2" fill="#7a2a10"/><circle cx="1257.0" cy="104.8" r="6.6" fill="url(#gTree)"/>
<rect x="1276.1" y="114.4" width="2.2" height="11.5" fill="#140c10"/><rect x="1276.1" y="122.7" width="0.8" height="3.2" fill="#7a2a10"/><circle cx="1277.2" cy="114.4" r="6.6" fill="url(#gTree)"/>
<rect x="1103.0" y="116.5" width="2.2" height="11.5" fill="#140c10"/><rect x="1103.0" y="124.8" width="0.8" height="3.2" fill="#7a2a10"/><circle cx="1104.1" cy="116.5" r="6.6" fill="url(#gTree)"/>
<rect x="1331.5" y="116.7" width="2.2" height="11.5" fill="#140c10"/><rect x="1331.5" y="125.0" width="0.8" height="3.2" fill="#7a2a10"/><circle cx="1332.6" cy="116.7" r="6.6" fill="url(#gTree)"/>
<rect x="1262.9" y="120.9" width="2.2" height="11.5" fill="#140c10"/><rect x="1262.9" y="129.2" width="0.8" height="3.2" fill="#7a2a10"/><circle cx="1264.0" cy="120.9" r="6.6" fill="url(#gTree)"/>
<rect x="1415.1" y="152.7" width="2.2" height="11.5" fill="#140c10"/><rect x="1415.1" y="161.0" width="0.8" height="3.2" fill="#7a2a10"/><circle cx="1416.2" cy="152.7" r="6.6" fill="url(#gTree)"/>
<rect x="1445.1" y="170.2" width="2.2" height="11.5" fill="#140c10"/><rect x="1445.1" y="178.5" width="0.8" height="3.2" fill="#7a2a10"/><circle cx="1446.2" cy="170.2" r="6.6" fill="url(#gTree)"/>
<rect x="1434.3" y="181.9" width="2.2" height="11.5" fill="#140c10"/><rect x="1434.3" y="190.2" width="0.8" height="3.2" fill="#7a2a10"/><circle cx="1435.4" cy="181.9" r="6.6" fill="url(#gTree)"/>
<rect x="1426.8" y="189.4" width="2.2" height="11.5" fill="#140c10"/><rect x="1426.8" y="197.7" width="0.8" height="3.2" fill="#7a2a10"/><circle cx="1427.9" cy="189.4" r="6.6" fill="url(#gTree)"/>
<rect x="1412.2" y="197.8" width="2.2" height="11.5" fill="#140c10"/><rect x="1412.2" y="206.1" width="0.8" height="3.2" fill="#7a2a10"/><circle cx="1413.3" cy="197.8" r="6.6" fill="url(#gTree)"/>
<rect x="1396.9" y="203.0" width="2.2" height="11.5" fill="#140c10"/><rect x="1396.9" y="211.3" width="0.8" height="3.2" fill="#7a2a10"/><circle cx="1398.0" cy="203.0" r="6.6" fill="url(#gTree)"/>
<polygon points="177.1,749.0 260.2,701.0 260.2,703.6 177.1,751.6" fill="#c4c2c5"/><polygon points="122.5,717.5 177.1,749.0 177.1,751.6 122.5,720.1" fill="#d9d7da"/><polygon points="122.5,717.5 205.6,669.5 260.2,701.0 177.1,749.0" fill="#ebe9ec"/>
<polygon points="181.8,718.5 254.5,676.5 254.5,700.5 181.8,742.5" fill="#3e3c46"/><polygon points="138.5,693.5 181.8,718.5 181.8,742.5 138.5,717.5" fill="#d0ced1"/><polygon points="138.5,693.5 211.2,651.5 254.5,676.5 181.8,718.5" fill="#cfcdd0"/>
<polygon points="146.3,700.0 174.0,716.0 174.0,738.0 146.3,722.0" fill="#34323a"/>
<line x1="150.9" y1="702.7" x2="150.9" y2="724.7" stroke="#6a6870" stroke-width="0.8"/>
<line x1="155.5" y1="705.3" x2="155.5" y2="727.3" stroke="#6a6870" stroke-width="0.8"/>
<line x1="160.2" y1="708.0" x2="160.2" y2="730.0" stroke="#6a6870" stroke-width="0.8"/>
<line x1="164.8" y1="710.7" x2="164.8" y2="732.7" stroke="#6a6870" stroke-width="0.8"/>
<line x1="169.4" y1="713.3" x2="169.4" y2="735.3" stroke="#6a6870" stroke-width="0.8"/>
<polygon points="247.6,680.5 254.5,676.5 254.5,700.5 247.6,704.5" fill="#cbc9cc"/>
<polygon points="180.7,719.5 263.0,672.0 263.0,674.5 180.7,722.0" fill="#8f8d91"/><polygon points="130.5,690.5 180.7,719.5 180.7,722.0 130.5,693.0" fill="#a4a2a6"/><polygon points="130.5,690.5 212.8,643.0 263.0,672.0 180.7,719.5" fill="#b5b3b6"/>
<polygon points="180.6,709.8 257.5,665.4 257.5,674.1 180.6,718.5" fill="#acaaae"/><polygon points="134.3,683.0 180.6,709.8 180.6,718.5 134.3,691.8" fill="#c3c1c4"/><polygon points="134.3,683.0 211.2,638.6 257.5,665.4 180.6,709.8" fill="#f1eff2"/>
<polygon points="142.1,683.0 211.2,643.1 249.7,665.4 180.6,705.2" fill="#f2f0f3"/>
<polygon points="142.1,683.0 211.2,643.1 212.1,645.4 144.1,685.3" fill="#7f7d84"/>
<polygon points="211.2,643.1 249.7,665.4 248.1,666.2 209.6,644.6" fill="#bdbbc0"/>
<polygon points="186.7,667.5 196.2,662.0 196.2,664.5 186.7,670.0" fill="#8a888c"/><polygon points="181.5,664.5 186.7,667.5 186.7,670.0 181.5,667.0" fill="#a8a6aa"/><polygon points="181.5,664.5 191.0,659.0 196.2,662.0 186.7,667.5" fill="#d8d6d9"/>
<polygon points="208.7,655.0 218.2,649.5 218.2,652.0 208.7,657.5" fill="#8a888c"/><polygon points="203.5,652.0 208.7,655.0 208.7,657.5 203.5,654.5" fill="#a8a6aa"/><polygon points="203.5,652.0 213.0,646.5 218.2,649.5 208.7,655.0" fill="#d8d6d9"/>
<ellipse cx="184.5" cy="664.5" rx="2.2" ry="1.4" fill="none" stroke="#555" stroke-width="0.8"/>
<ellipse cx="189.5" cy="661.7" rx="2.2" ry="1.4" fill="none" stroke="#555" stroke-width="0.8"/>
<ellipse cx="206.5" cy="652.0" rx="2.2" ry="1.4" fill="none" stroke="#555" stroke-width="0.8"/>
<ellipse cx="211.5" cy="649.2" rx="2.2" ry="1.4" fill="none" stroke="#555" stroke-width="0.8"/>
<polyline points="434.6,621.7 457.3,621.7 508.5,647.3 483.6,648.0" fill="none" stroke="#2a2830" stroke-width="1.1" stroke-opacity="0.8"/><line x1="434.6" y1="583.7" x2="434.6" y2="621.7" stroke="#c9c7cb" stroke-width="2.2"/><line x1="482.9" y1="611.5" x2="482.9" y2="648.0" stroke="#c9c7cb" stroke-width="2.2"/><line x1="434.6" y1="583.7" x2="483.9" y2="612.0" stroke="#1e1e22" stroke-width="1.6"/><rect x="450.2" y="594.0" width="2.6" height="1.6" fill="#d8d8d8"/><rect x="463.2" y="601.5" width="2.6" height="1.6" fill="#d8d8d8"/>
<polyline points="582.0,590.2 604.0,590.2 659.7,617.8 632.8,620.3" fill="none" stroke="#2a2830" stroke-width="1.1" stroke-opacity="0.8"/><line x1="582.0" y1="553.4" x2="582.0" y2="590.2" stroke="#c9c7cb" stroke-width="2.2"/><line x1="632.1" y1="581.0" x2="632.1" y2="620.3" stroke="#c9c7cb" stroke-width="2.2"/><line x1="582.0" y1="553.4" x2="633.1" y2="581.5" stroke="#1e1e22" stroke-width="1.6"/><rect x="598.2" y="563.7" width="2.6" height="1.6" fill="#d8d8d8"/><rect x="611.8" y="571.1" width="2.6" height="1.6" fill="#d8d8d8"/>
<polyline points="891.5,480.4 905.0,480.4 925.0,490.0" fill="none" stroke="#2a2830" stroke-width="1.0" stroke-opacity="0.7"/>
<line x1="891.3" y1="442.8" x2="891.3" y2="480.4" stroke="#cfcdd1" stroke-width="2.4"/>
<rect x="891.8" y="452.0" width="4" height="6" rx="1" fill="#dedde0" stroke="#a9a7ab" stroke-width="0.5"/>
<rect x="891.8" y="462.0" width="4" height="6" rx="1" fill="#dedde0" stroke="#a9a7ab" stroke-width="0.5"/>
<rect x="891.8" y="471.0" width="4" height="6" rx="1" fill="#dedde0" stroke="#a9a7ab" stroke-width="0.5"/>
<line x1="900.3" y1="438.6" x2="900.3" y2="477" stroke="#cfcdd1" stroke-width="2"/>
<line x1="899.5" y1="438.2" x2="922.5" y2="450.6" stroke="#1e1e22" stroke-width="1.6"/>
<rect x="906" y="441.6" width="3" height="2" fill="#ddd"/><rect x="914" y="446" width="3" height="2" fill="#ddd"/>
<polygon points="905.4,484.5 912.5,481.8 918.7,491.5 911.6,494.2" fill="#a7a5aa"/>
<line x1="1203.8" y1="342.4" x2="1203.8" y2="351.4" stroke="#cbb89a" stroke-width="1"/><line x1="1213.8" y1="348.4" x2="1213.8" y2="357.4" stroke="#cbb89a" stroke-width="1"/><polygon points="1202.3,333.4 1215.3,340.9 1215.3,350.9 1202.3,343.4" fill="#2c2b2f"/>
<line x1="1145.4" y1="375.0" x2="1145.4" y2="384.0" stroke="#cbb89a" stroke-width="1"/><line x1="1155.4" y1="381.0" x2="1155.4" y2="390.0" stroke="#cbb89a" stroke-width="1"/><polygon points="1143.9,366.0 1156.9,373.5 1156.9,383.5 1143.9,376.0" fill="#2c2b2f"/>
<polygon points="408.3,633.5 415.4,636.5 415.3,634.6 424.7,633.9 424.5,630.5 415.0,631.3 414.9,629.4" fill="#eeeeee"/>
<polygon points="409.2,653.5 416.8,654.3 416.1,652.6 424.6,649.1 423.4,645.9 414.8,649.4 414.1,647.6" fill="#eeeeee"/>
<polygon points="539.3,618.6 546.5,621.2 546.3,619.4 555.6,618.1 555.2,614.7 545.8,616.0 545.6,614.1" fill="#eeeeee"/>
<polygon points="555.0,641.0 562.0,641.1 561.1,639.4 568.3,635.3 566.5,632.3 559.4,636.5 558.4,634.9" fill="#eeeeee"/>
<polygon points="218.4,748.0 290.6,706.4 307.0,712.8 234.8,754.5" fill="#1c1824" fill-opacity="0.45"/><polygon points="247.8,736.5 298.3,707.3 298.3,708.8 247.8,738.0" fill="#222"/><polygon points="247.8,724.2 298.3,695.1 298.3,707.3 247.8,736.5" fill="#a8a8ab"/><polygon points="237.5,718.3 247.8,724.2 247.8,736.5 237.5,730.5" fill="#f2f2f2"/><polygon points="237.5,718.3 288.0,689.1 298.3,695.1 247.8,724.2" fill="#e5e5e7"/><ellipse cx="288.3" cy="714.5" rx="1.9" ry="2.2" fill="#1b1b1b"/><ellipse cx="288.6" cy="714.5" rx="0.9" ry="1.1" fill="#cfcfcf"/><ellipse cx="293.1" cy="711.7" rx="1.9" ry="2.2" fill="#1b1b1b"/><ellipse cx="293.4" cy="711.7" rx="0.9" ry="1.1" fill="#cfcfcf"/><polygon points="223.6,744.7 236.5,737.2 236.5,744.5 223.6,752.0" fill="#186ba5"/><polygon points="215.0,739.8 223.6,744.7 223.6,752.0 215.0,747.0" fill="#cfcfd3"/><polygon points="215.0,739.8 228.0,732.3 236.5,737.2 223.6,744.7" fill="#3994d4"/><polygon points="237.2,734.4 247.1,728.7 247.1,739.0 237.2,744.8" fill="#1a73b2"/><polygon points="227.4,728.8 237.2,734.4 237.2,744.8 227.4,739.1" fill="#1d7fc4"/><polygon points="227.4,728.8 237.3,723.0 247.1,728.7 237.2,734.4" fill="#3592d3"/><polygon points="227.8,729.5 236.5,734.6 236.5,736.7 227.8,731.7" fill="#26262e"/><line x1="238.0" y1="743.3" x2="238.0" y2="729.9" stroke="#d5d5d8" stroke-width="1.1"/><ellipse cx="227.0" cy="749.4" rx="2.0" ry="2.3" fill="#1b1b1b"/><ellipse cx="227.3" cy="749.4" rx="0.9" ry="1.1" fill="#cfcfcf"/><ellipse cx="242.3" cy="741.2" rx="2.0" ry="2.3" fill="#1b1b1b"/><ellipse cx="242.6" cy="741.2" rx="0.9" ry="1.1" fill="#cfcfcf"/>
<polygon points="383.8,736.5 458.0,695.3 473.8,701.7 399.6,742.9" fill="#1c1824" fill-opacity="0.45"/><polygon points="413.1,725.1 465.3,696.1 465.3,697.6 413.1,726.6" fill="#222"/><polygon points="413.1,712.9 465.3,683.9 465.3,696.1 413.1,725.1" fill="#a8a8ab"/><polygon points="403.3,707.0 413.1,712.9 413.1,725.1 403.3,719.2" fill="#f2f2f2"/><polygon points="403.3,707.0 455.5,678.0 465.3,683.9 413.1,712.9" fill="#e5e5e7"/><ellipse cx="455.1" cy="703.1" rx="1.9" ry="2.2" fill="#1b1b1b"/><ellipse cx="455.4" cy="703.1" rx="0.9" ry="1.1" fill="#cfcfcf"/><ellipse cx="460.0" cy="700.5" rx="1.9" ry="2.2" fill="#1b1b1b"/><ellipse cx="460.3" cy="700.5" rx="0.9" ry="1.1" fill="#cfcfcf"/><polygon points="388.4,733.1 401.6,725.7 401.6,732.9 388.4,740.3" fill="#c19c0c"/><polygon points="380.3,728.2 388.4,733.1 388.4,740.3 380.3,735.4" fill="#cfcfd3"/><polygon points="380.3,728.2 393.6,720.9 401.6,725.7 388.4,733.1" fill="#f3cb2b"/><polygon points="402.2,722.9 412.4,717.3 412.4,727.7 402.2,733.3" fill="#d0a80c"/><polygon points="393.0,717.4 402.2,722.9 402.2,733.3 393.0,727.7" fill="#e5ba0e"/><polygon points="393.0,717.4 403.1,711.7 412.4,717.3 402.2,722.9" fill="#f3c927"/><polygon points="393.4,718.1 401.6,723.1 401.6,725.2 393.4,720.3" fill="#26262e"/><line x1="403.1" y1="731.8" x2="403.1" y2="718.4" stroke="#d5d5d8" stroke-width="1.1"/><ellipse cx="391.9" cy="737.7" rx="2.0" ry="2.3" fill="#1b1b1b"/><ellipse cx="392.2" cy="737.7" rx="0.9" ry="1.1" fill="#cfcfcf"/><ellipse cx="407.5" cy="729.8" rx="2.0" ry="2.3" fill="#1b1b1b"/><ellipse cx="407.8" cy="729.8" rx="0.9" ry="1.1" fill="#cfcfcf"/>
<polygon points="722.2,556.4 804.7,528.7 818.3,537.9 735.8,565.7" fill="#1c1824" fill-opacity="0.45"/><polygon points="754.8,550.1 810.8,531.2 810.8,532.7 754.8,551.6" fill="#222"/><polygon points="754.8,538.8 810.8,519.9 810.8,531.2 754.8,550.1" fill="#a8a8ab"/><polygon points="746.8,530.9 754.8,538.8 754.8,550.1 746.8,542.2" fill="#f2f2f2"/><polygon points="746.8,530.9 802.9,512.0 810.8,519.9 754.8,538.8" fill="#e5e5e7"/><ellipse cx="798.9" cy="536.7" rx="1.9" ry="2.2" fill="#1b1b1b"/><ellipse cx="799.2" cy="536.7" rx="0.9" ry="1.1" fill="#cfcfcf"/><ellipse cx="804.7" cy="534.8" rx="1.9" ry="2.2" fill="#1b1b1b"/><ellipse cx="805.0" cy="534.8" rx="0.9" ry="1.1" fill="#cfcfcf"/><polygon points="725.6,554.8 741.4,549.4 741.4,556.2 725.6,561.6" fill="#482474"/><polygon points="718.8,548.1 725.6,554.8 725.6,561.6 718.8,554.9" fill="#cfcfd3"/><polygon points="718.8,548.1 734.7,542.8 741.4,549.4 725.6,554.8" fill="#6d479f"/><polygon points="741.9,546.9 754.0,542.8 754.0,552.6 741.9,556.7" fill="#4d277d"/><polygon points="734.3,539.4 741.9,546.9 741.9,556.7 734.3,549.2" fill="#552b8a"/><polygon points="734.3,539.4 746.5,535.3 754.0,542.8 741.9,546.9" fill="#6a429c"/><polygon points="734.6,540.2 741.4,547.0 741.4,548.9 734.6,542.2" fill="#26262e"/><line x1="742.9" y1="555.3" x2="742.9" y2="542.5" stroke="#d5d5d8" stroke-width="1.1"/><ellipse cx="729.8" cy="559.6" rx="2.0" ry="2.3" fill="#1b1b1b"/><ellipse cx="730.1" cy="559.6" rx="0.9" ry="1.1" fill="#cfcfcf"/><ellipse cx="748.2" cy="553.9" rx="2.0" ry="2.3" fill="#1b1b1b"/><ellipse cx="748.5" cy="553.9" rx="0.9" ry="1.1" fill="#cfcfcf"/>
<polygon points="972.7,462.0 1061.9,431.0 1075.1,439.6 985.9,470.6" fill="#1c1824" fill-opacity="0.45"/><polygon points="1004.6,454.9 1067.5,433.0 1067.5,434.5 1004.6,456.4" fill="#222"/><polygon points="1004.6,442.4 1067.5,420.5 1067.5,433.0 1004.6,454.9" fill="#a8a8ab"/><polygon points="997.0,435.1 1004.6,442.4 1004.6,454.9 997.0,447.6" fill="#f2f2f2"/><polygon points="997.0,435.1 1060.0,413.2 1067.5,420.5 1004.6,442.4" fill="#e5e5e7"/><ellipse cx="1055.7" cy="438.6" rx="1.9" ry="2.2" fill="#1b1b1b"/><ellipse cx="1056.0" cy="438.6" rx="0.9" ry="1.1" fill="#cfcfcf"/><ellipse cx="1061.5" cy="436.6" rx="1.9" ry="2.2" fill="#1b1b1b"/><ellipse cx="1061.8" cy="436.6" rx="0.9" ry="1.1" fill="#cfcfcf"/><polygon points="975.6,459.3 991.4,453.8 991.4,461.1 975.6,466.6" fill="#a01921"/><polygon points="969.3,453.2 975.6,459.3 975.6,466.6 969.3,460.6" fill="#cfcfd3"/><polygon points="969.3,453.2 985.0,447.7 991.4,453.8 975.6,459.3" fill="#ce3a43"/><polygon points="991.8,451.0 1003.9,446.8 1003.9,457.4 991.8,461.6" fill="#ac1b24"/><polygon points="984.6,444.1 991.8,451.0 991.8,461.6 984.6,454.7" fill="#be1e27"/><polygon points="984.6,444.1 996.7,439.9 1003.9,446.8 991.8,451.0" fill="#cd363f"/><polygon points="984.9,444.9 991.4,451.1 991.4,453.3 984.9,447.1" fill="#26262e"/><line x1="992.8" y1="460.2" x2="992.8" y2="446.6" stroke="#d5d5d8" stroke-width="1.1"/><ellipse cx="979.8" cy="464.6" rx="2.0" ry="2.3" fill="#1b1b1b"/><ellipse cx="980.1" cy="464.6" rx="0.9" ry="1.1" fill="#cfcfcf"/><ellipse cx="998.1" cy="458.8" rx="2.0" ry="2.3" fill="#1b1b1b"/><ellipse cx="998.4" cy="458.8" rx="0.9" ry="1.1" fill="#cfcfcf"/>
<polygon points="976.5,506.1 1051.5,462.9 1068.3,469.6 993.3,512.8" fill="#1c1824" fill-opacity="0.45"/><polygon points="1006.3,494.8 1059.6,464.1 1059.6,465.6 1006.3,496.3" fill="#222"/><polygon points="1006.3,482.3 1059.6,451.6 1059.6,464.1 1006.3,494.8" fill="#a8a8ab"/><polygon points="995.6,476.1 1006.3,482.3 1006.3,494.8 995.6,488.6" fill="#f2f2f2"/><polygon points="995.6,476.1 1048.9,445.4 1059.6,451.6 1006.3,482.3" fill="#e5e5e7"/><ellipse cx="1049.6" cy="471.2" rx="1.9" ry="2.2" fill="#1b1b1b"/><ellipse cx="1049.9" cy="471.2" rx="0.9" ry="1.1" fill="#cfcfcf"/><ellipse cx="1054.4" cy="468.4" rx="1.9" ry="2.2" fill="#1b1b1b"/><ellipse cx="1054.7" cy="468.4" rx="0.9" ry="1.1" fill="#cfcfcf"/><polygon points="982.1,502.9 995.1,495.4 995.1,502.8 982.1,510.3" fill="#186ba5"/><polygon points="973.1,497.7 982.1,502.9 982.1,510.3 973.1,505.1" fill="#cfcfd3"/><polygon points="973.1,497.7 986.1,490.2 995.1,495.4 982.1,502.9" fill="#3994d4"/><polygon points="995.7,492.6 1005.6,486.8 1005.6,497.4 995.7,503.2" fill="#1a73b2"/><polygon points="985.5,486.7 995.7,492.6 995.7,503.2 985.5,497.2" fill="#1d7fc4"/><polygon points="985.5,486.7 995.4,480.9 1005.6,486.8 995.7,492.6" fill="#3592d3"/><polygon points="985.9,487.4 995.1,492.7 995.1,494.9 985.9,489.6" fill="#26262e"/><line x1="996.6" y1="501.7" x2="996.6" y2="488.1" stroke="#d5d5d8" stroke-width="1.1"/><ellipse cx="985.6" cy="507.7" rx="2.0" ry="2.3" fill="#1b1b1b"/><ellipse cx="985.9" cy="507.7" rx="0.9" ry="1.1" fill="#cfcfcf"/><ellipse cx="1000.9" cy="499.6" rx="2.0" ry="2.3" fill="#1b1b1b"/><ellipse cx="1001.2" cy="499.6" rx="0.9" ry="1.1" fill="#cfcfcf"/>
<polygon points="614.1,713.5 686.6,671.6 703.4,678.4 630.9,720.2" fill="#1c1824" fill-opacity="0.45"/><polygon points="643.9,702.2 694.8,672.9 694.8,674.4 643.9,703.7" fill="#222"/><polygon points="643.9,690.7 694.8,661.4 694.8,672.9 643.9,702.2" fill="#a8a8ab"/><polygon points="633.2,684.5 643.9,690.7 643.9,702.2 633.2,696.0" fill="#f2f2f2"/><polygon points="633.2,684.5 684.0,655.1 694.8,661.4 643.9,690.7" fill="#e5e5e7"/><ellipse cx="684.8" cy="680.0" rx="1.9" ry="2.2" fill="#1b1b1b"/><ellipse cx="685.1" cy="680.0" rx="0.9" ry="1.1" fill="#cfcfcf"/><ellipse cx="689.6" cy="677.2" rx="1.9" ry="2.2" fill="#1b1b1b"/><ellipse cx="689.9" cy="677.2" rx="0.9" ry="1.1" fill="#cfcfcf"/><polygon points="619.7,710.8 632.7,703.3 632.7,710.2 619.7,717.7" fill="#1e1e1e"/><polygon points="610.7,705.6 619.7,710.8 619.7,717.7 610.7,712.5" fill="#cfcfd3"/><polygon points="610.7,705.6 623.7,698.1 632.7,703.3 619.7,710.8" fill="#404040"/><polygon points="633.3,700.6 643.2,694.9 643.2,704.8 633.3,710.5" fill="#202020"/><polygon points="623.1,694.8 633.3,700.6 633.3,710.5 623.1,704.6" fill="#242424"/><polygon points="623.1,694.8 633.0,689.0 643.2,694.9 633.3,700.6" fill="#3b3b3b"/><polygon points="623.5,695.5 632.7,700.8 632.7,702.8 623.5,697.5" fill="#26262e"/><line x1="634.2" y1="709.0" x2="634.2" y2="696.1" stroke="#d5d5d8" stroke-width="1.1"/><ellipse cx="623.2" cy="715.1" rx="2.0" ry="2.3" fill="#1b1b1b"/><ellipse cx="623.5" cy="715.1" rx="0.9" ry="1.1" fill="#cfcfcf"/><ellipse cx="638.5" cy="706.9" rx="2.0" ry="2.3" fill="#1b1b1b"/><ellipse cx="638.8" cy="706.9" rx="0.9" ry="1.1" fill="#cfcfcf"/>
<polygon points="1222.4,361.2 1296.1,318.7 1312.9,325.4 1239.2,367.9" fill="#1c1824" fill-opacity="0.45"/><polygon points="1252.2,349.9 1304.2,319.9 1304.2,321.4 1252.2,351.4" fill="#222"/><polygon points="1252.2,337.4 1304.2,307.4 1304.2,319.9 1252.2,349.9" fill="#a8a8ab"/><polygon points="1241.5,331.2 1252.2,337.4 1252.2,349.9 1241.5,343.7" fill="#f2f2f2"/><polygon points="1241.5,331.2 1293.5,301.2 1304.2,307.4 1252.2,337.4" fill="#e5e5e7"/><ellipse cx="1294.2" cy="327.0" rx="1.9" ry="2.2" fill="#1b1b1b"/><ellipse cx="1294.5" cy="327.0" rx="0.9" ry="1.1" fill="#cfcfcf"/><ellipse cx="1299.0" cy="324.3" rx="1.9" ry="2.2" fill="#1b1b1b"/><ellipse cx="1299.3" cy="324.3" rx="0.9" ry="1.1" fill="#cfcfcf"/><polygon points="1228.0,358.0 1241.0,350.5 1241.0,357.9 1228.0,365.4" fill="#482474"/><polygon points="1219.0,352.8 1228.0,358.0 1228.0,365.4 1219.0,360.2" fill="#cfcfd3"/><polygon points="1219.0,352.8 1232.0,345.3 1241.0,350.5 1228.0,358.0" fill="#6d479f"/><polygon points="1241.6,347.7 1251.5,341.9 1251.5,352.5 1241.6,358.2" fill="#4d277d"/><polygon points="1231.4,341.8 1241.6,347.7 1241.6,358.2 1231.4,352.3" fill="#552b8a"/><polygon points="1231.4,341.8 1241.3,336.0 1251.5,341.9 1241.6,347.7" fill="#6a429c"/><polygon points="1231.8,342.5 1241.0,347.8 1241.0,350.0 1231.8,344.7" fill="#26262e"/><line x1="1242.5" y1="356.8" x2="1242.5" y2="343.2" stroke="#d5d5d8" stroke-width="1.1"/><ellipse cx="1231.5" cy="362.8" rx="2.0" ry="2.3" fill="#1b1b1b"/><ellipse cx="1231.8" cy="362.8" rx="0.9" ry="1.1" fill="#cfcfcf"/><ellipse cx="1246.8" cy="354.6" rx="2.0" ry="2.3" fill="#1b1b1b"/><ellipse cx="1247.1" cy="354.6" rx="0.9" ry="1.1" fill="#cfcfcf"/>
<polygon points="1433.0,242.8 1506.7,200.3 1523.5,207.0 1449.8,249.5" fill="#1c1824" fill-opacity="0.45"/><polygon points="1462.8,231.5 1514.8,201.5 1514.8,203.0 1462.8,233.0" fill="#222"/><polygon points="1462.8,219.0 1514.8,189.0 1514.8,201.5 1462.8,231.5" fill="#a8a8ab"/><polygon points="1452.1,212.8 1462.8,219.0 1462.8,231.5 1452.1,225.3" fill="#f2f2f2"/><polygon points="1452.1,212.8 1504.1,182.8 1514.8,189.0 1462.8,219.0" fill="#e5e5e7"/><ellipse cx="1504.8" cy="208.7" rx="1.9" ry="2.2" fill="#1b1b1b"/><ellipse cx="1505.1" cy="208.7" rx="0.9" ry="1.1" fill="#cfcfcf"/><ellipse cx="1509.6" cy="205.9" rx="1.9" ry="2.2" fill="#1b1b1b"/><ellipse cx="1509.9" cy="205.9" rx="0.9" ry="1.1" fill="#cfcfcf"/><polygon points="1438.6,239.6 1451.6,232.1 1451.6,239.5 1438.6,247.0" fill="#a81921"/><polygon points="1429.6,234.4 1438.6,239.6 1438.6,247.0 1429.6,241.8" fill="#cfcfd3"/><polygon points="1429.6,234.4 1442.6,226.9 1451.6,232.1 1438.6,239.6" fill="#d73a43"/><polygon points="1452.2,229.3 1462.1,223.5 1462.1,234.1 1452.2,239.9" fill="#b41b24"/><polygon points="1442.0,223.4 1452.2,229.3 1452.2,239.9 1442.0,234.0" fill="#c71e27"/><polygon points="1442.0,223.4 1451.9,217.6 1462.1,223.5 1452.2,229.3" fill="#d6363f"/><polygon points="1442.4,224.1 1451.6,229.4 1451.6,231.6 1442.4,226.3" fill="#26262e"/><line x1="1453.1" y1="238.4" x2="1453.1" y2="224.8" stroke="#d5d5d8" stroke-width="1.1"/><ellipse cx="1442.1" cy="244.4" rx="2.0" ry="2.3" fill="#1b1b1b"/><ellipse cx="1442.4" cy="244.4" rx="0.9" ry="1.1" fill="#cfcfcf"/><ellipse cx="1457.4" cy="236.3" rx="2.0" ry="2.3" fill="#1b1b1b"/><ellipse cx="1457.7" cy="236.3" rx="0.9" ry="1.1" fill="#cfcfcf"/>
<polygon points="675.7,744.2 756.3,697.7 772.3,704.0 691.8,750.5" fill="#1c1824" fill-opacity="0.45"/><polygon points="740.4,701.8 750.4,696.1 750.4,708.3 740.4,714.1" fill="#c21e1a"/><polygon points="731.0,696.4 740.4,701.8 740.4,714.1 731.0,708.6" fill="#d6211d"/><polygon points="731.0,696.4 740.9,690.6 750.4,696.1 740.4,701.8" fill="#e43935"/><polygon points="749.8,699.4 762.8,691.9 762.8,700.5 749.8,708.0" fill="#b41c18"/><polygon points="741.5,694.7 749.8,699.4 749.8,708.0 741.5,703.2" fill="#cb1f1b"/><polygon points="741.5,694.7 754.5,687.2 762.8,691.9 749.8,699.4" fill="#e53d39"/><line x1="749.5" y1="707.8" x2="749.5" y2="692.6" stroke="#d5d5d8" stroke-width="1.1"/><ellipse cx="759.3" cy="701.9" rx="2.0" ry="2.3" fill="#1b1b1b"/><ellipse cx="759.6" cy="701.9" rx="0.9" ry="1.1" fill="#cfcfcf"/><ellipse cx="744.8" cy="711.0" rx="2.0" ry="2.3" fill="#1b1b1b"/><ellipse cx="745.1" cy="711.0" rx="0.9" ry="1.1" fill="#cfcfcf"/><polygon points="681.4,746.0 740.2,712.0 740.2,713.5 681.4,747.5" fill="#222"/><polygon points="681.4,731.0 740.2,697.0 740.2,712.0 681.4,746.0" fill="#e3e3e5"/><polygon points="671.4,725.2 681.4,731.0 681.4,746.0 671.4,740.2" fill="#d4d4d6"/><polygon points="671.4,725.2 730.3,691.2 740.2,697.0 681.4,731.0" fill="#f0f0f0"/><line x1="685.6" y1="742.5" x2="685.6" y2="729.5" stroke="#c6c6c8" stroke-width="0.6"/><line x1="689.8" y1="740.1" x2="689.8" y2="727.1" stroke="#c6c6c8" stroke-width="0.6"/><line x1="694.0" y1="737.7" x2="694.0" y2="724.7" stroke="#c6c6c8" stroke-width="0.6"/><line x1="698.2" y1="735.2" x2="698.2" y2="722.2" stroke="#c6c6c8" stroke-width="0.6"/><line x1="702.4" y1="732.8" x2="702.4" y2="719.8" stroke="#c6c6c8" stroke-width="0.6"/><line x1="706.6" y1="730.4" x2="706.6" y2="717.4" stroke="#c6c6c8" stroke-width="0.6"/><line x1="710.8" y1="728.0" x2="710.8" y2="715.0" stroke="#c6c6c8" stroke-width="0.6"/><line x1="715.0" y1="725.5" x2="715.0" y2="712.5" stroke="#c6c6c8" stroke-width="0.6"/><line x1="719.2" y1="723.1" x2="719.2" y2="710.1" stroke="#c6c6c8" stroke-width="0.6"/><line x1="723.4" y1="720.7" x2="723.4" y2="707.7" stroke="#c6c6c8" stroke-width="0.6"/><line x1="727.6" y1="718.2" x2="727.6" y2="705.2" stroke="#c6c6c8" stroke-width="0.6"/><line x1="731.8" y1="715.8" x2="731.8" y2="702.8" stroke="#c6c6c8" stroke-width="0.6"/><line x1="736.0" y1="713.4" x2="736.0" y2="700.4" stroke="#c6c6c8" stroke-width="0.6"/><polygon points="681.4,746.0 722.6,722.2 722.6,724.2 681.4,748.0" fill="#161616"/><ellipse cx="684.0" cy="745.9" rx="1.9" ry="2.2" fill="#1b1b1b"/><ellipse cx="684.3" cy="745.9" rx="0.9" ry="1.1" fill="#cfcfcf"/><ellipse cx="688.7" cy="743.1" rx="1.9" ry="2.2" fill="#1b1b1b"/><ellipse cx="689.0" cy="743.1" rx="0.9" ry="1.1" fill="#cfcfcf"/>
<polygon points="786.8,678.0 865.5,632.6 881.9,639.1 803.3,684.5" fill="#1c1824" fill-opacity="0.45"/><polygon points="850.0,636.7 860.0,630.9 860.0,643.5 850.0,649.2" fill="#346b25"/><polygon points="840.2,631.0 850.0,636.7 850.0,649.2 840.2,643.5" fill="#397629"/><polygon points="840.2,631.0 850.1,625.2 860.0,630.9 850.0,636.7" fill="#508a41"/><polygon points="859.4,634.4 872.4,626.9 872.4,635.6 859.4,643.1" fill="#306423"/><polygon points="850.7,629.4 859.4,634.4 859.4,643.1 850.7,638.1" fill="#367027"/><polygon points="850.7,629.4 863.7,621.9 872.4,626.9 859.4,634.4" fill="#548c45"/><line x1="859.1" y1="643.0" x2="859.1" y2="627.4" stroke="#d5d5d8" stroke-width="1.1"/><ellipse cx="868.9" cy="637.0" rx="2.0" ry="2.3" fill="#1b1b1b"/><ellipse cx="869.2" cy="637.0" rx="0.9" ry="1.1" fill="#cfcfcf"/><ellipse cx="854.4" cy="646.1" rx="2.0" ry="2.3" fill="#1b1b1b"/><ellipse cx="854.7" cy="646.1" rx="0.9" ry="1.1" fill="#cfcfcf"/><polygon points="792.9,680.0 849.9,647.1 849.9,648.6 792.9,681.5" fill="#222"/><polygon points="792.9,664.5 849.9,631.6 849.9,647.1 792.9,680.0" fill="#e3e3e5"/><polygon points="782.5,658.5 792.9,664.5 792.9,680.0 782.5,674.0" fill="#d4d4d6"/><polygon points="782.5,658.5 839.5,625.6 849.9,631.6 792.9,664.5" fill="#f0f0f0"/><line x1="797.0" y1="676.6" x2="797.0" y2="663.1" stroke="#c6c6c8" stroke-width="0.6"/><line x1="801.0" y1="674.3" x2="801.0" y2="660.8" stroke="#c6c6c8" stroke-width="0.6"/><line x1="805.1" y1="672.0" x2="805.1" y2="658.5" stroke="#c6c6c8" stroke-width="0.6"/><line x1="809.2" y1="669.6" x2="809.2" y2="656.1" stroke="#c6c6c8" stroke-width="0.6"/><line x1="813.2" y1="667.2" x2="813.2" y2="653.8" stroke="#c6c6c8" stroke-width="0.6"/><line x1="817.3" y1="664.9" x2="817.3" y2="651.4" stroke="#c6c6c8" stroke-width="0.6"/><line x1="821.4" y1="662.5" x2="821.4" y2="649.0" stroke="#c6c6c8" stroke-width="0.6"/><line x1="825.5" y1="660.2" x2="825.5" y2="646.7" stroke="#c6c6c8" stroke-width="0.6"/><line x1="829.5" y1="657.9" x2="829.5" y2="644.4" stroke="#c6c6c8" stroke-width="0.6"/><line x1="833.6" y1="655.5" x2="833.6" y2="642.0" stroke="#c6c6c8" stroke-width="0.6"/><line x1="837.7" y1="653.1" x2="837.7" y2="639.6" stroke="#c6c6c8" stroke-width="0.6"/><line x1="841.7" y1="650.8" x2="841.7" y2="637.3" stroke="#c6c6c8" stroke-width="0.6"/><line x1="845.8" y1="648.5" x2="845.8" y2="635.0" stroke="#c6c6c8" stroke-width="0.6"/><polygon points="792.9,680.0 832.8,657.0 832.8,659.0 792.9,682.0" fill="#161616"/><ellipse cx="795.5" cy="679.9" rx="1.9" ry="2.2" fill="#1b1b1b"/><ellipse cx="795.8" cy="679.9" rx="0.9" ry="1.1" fill="#cfcfcf"/><ellipse cx="800.3" cy="677.1" rx="1.9" ry="2.2" fill="#1b1b1b"/><ellipse cx="800.6" cy="677.1" rx="0.9" ry="1.1" fill="#cfcfcf"/>
<polygon points="1268.8,399.8 1344.2,356.3 1360.6,362.8 1285.3,406.3" fill="#1c1824" fill-opacity="0.45"/><polygon points="1328.8,360.4 1338.7,354.6 1338.7,367.2 1328.8,372.9" fill="#d0d0d0"/><polygon points="1318.9,354.7 1328.8,360.4 1328.8,372.9 1318.9,367.2" fill="#e5e5e5"/><polygon points="1318.9,354.7 1328.8,348.9 1338.7,354.6 1328.8,360.4" fill="#f3f3f3"/><polygon points="1338.1,358.1 1351.1,350.6 1351.1,359.3 1338.1,366.8" fill="#c1c1c1"/><polygon points="1329.5,353.1 1338.1,358.1 1338.1,366.8 1329.5,361.8" fill="#d9d9d9"/><polygon points="1329.5,353.1 1342.4,345.6 1351.1,350.6 1338.1,358.1" fill="#f3f3f3"/><line x1="1337.9" y1="366.7" x2="1337.9" y2="351.1" stroke="#d5d5d8" stroke-width="1.1"/><ellipse cx="1347.6" cy="360.7" rx="2.0" ry="2.3" fill="#1b1b1b"/><ellipse cx="1347.9" cy="360.7" rx="0.9" ry="1.1" fill="#cfcfcf"/><ellipse cx="1333.1" cy="369.8" rx="2.0" ry="2.3" fill="#1b1b1b"/><ellipse cx="1333.4" cy="369.8" rx="0.9" ry="1.1" fill="#cfcfcf"/><polygon points="1274.9,401.8 1328.6,370.8 1328.6,372.3 1274.9,403.3" fill="#222"/><polygon points="1274.9,386.3 1328.6,355.3 1328.6,370.8 1274.9,401.8" fill="#e3e3e5"/><polygon points="1264.5,380.3 1274.9,386.3 1274.9,401.8 1264.5,395.8" fill="#d4d4d6"/><polygon points="1264.5,380.3 1318.2,349.3 1328.6,355.3 1274.9,386.3" fill="#f0f0f0"/><line x1="1278.7" y1="398.6" x2="1278.7" y2="385.1" stroke="#c6c6c8" stroke-width="0.6"/><line x1="1282.6" y1="396.4" x2="1282.6" y2="382.9" stroke="#c6c6c8" stroke-width="0.6"/><line x1="1286.4" y1="394.2" x2="1286.4" y2="380.7" stroke="#c6c6c8" stroke-width="0.6"/><line x1="1290.2" y1="391.9" x2="1290.2" y2="378.4" stroke="#c6c6c8" stroke-width="0.6"/><line x1="1294.1" y1="389.7" x2="1294.1" y2="376.2" stroke="#c6c6c8" stroke-width="0.6"/><line x1="1297.9" y1="387.5" x2="1297.9" y2="374.0" stroke="#c6c6c8" stroke-width="0.6"/><line x1="1301.7" y1="385.3" x2="1301.7" y2="371.8" stroke="#c6c6c8" stroke-width="0.6"/><line x1="1305.6" y1="383.1" x2="1305.6" y2="369.6" stroke="#c6c6c8" stroke-width="0.6"/><line x1="1309.4" y1="380.9" x2="1309.4" y2="367.4" stroke="#c6c6c8" stroke-width="0.6"/><line x1="1313.2" y1="378.7" x2="1313.2" y2="365.2" stroke="#c6c6c8" stroke-width="0.6"/><line x1="1317.1" y1="376.4" x2="1317.1" y2="362.9" stroke="#c6c6c8" stroke-width="0.6"/><line x1="1320.9" y1="374.2" x2="1320.9" y2="360.7" stroke="#c6c6c8" stroke-width="0.6"/><line x1="1324.8" y1="372.0" x2="1324.8" y2="358.5" stroke="#c6c6c8" stroke-width="0.6"/><polygon points="1274.9,401.8 1312.5,380.1 1312.5,382.1 1274.9,403.8" fill="#161616"/><ellipse cx="1277.5" cy="401.7" rx="1.9" ry="2.2" fill="#1b1b1b"/><ellipse cx="1277.8" cy="401.7" rx="0.9" ry="1.1" fill="#cfcfcf"/><ellipse cx="1282.3" cy="398.9" rx="1.9" ry="2.2" fill="#1b1b1b"/><ellipse cx="1282.6" cy="398.9" rx="0.9" ry="1.1" fill="#cfcfcf"/>
<g transform="translate(547.0,757.0) scale(1.036) translate(-14.7,8.0)"><polygon points="3.5,1.0 24.2,-11.0 34.6,-5.0 13.9,7.0" fill="#1c1824" fill-opacity="0.35"/><polygon points="8.7,-1.5 29.4,-13.5 29.4,-8.5 8.7,3.5" fill="#a81820"/><polygon points="0.0,-6.5 8.7,-1.5 8.7,3.5 0.0,-1.5" fill="#c21c25"/><polygon points="0.0,-6.5 20.8,-18.5 29.4,-13.5 8.7,-1.5" fill="#db313b"/><polygon points="13.2,-9.1 24.0,-15.3 24.0,-11.1 13.2,-4.9" fill="#24242c"/><polygon points="5.9,-13.3 13.2,-9.1 13.2,-4.9 5.9,-9.1" fill="#2c2c34"/><polygon points="5.9,-13.3 16.7,-19.5 24.0,-15.3 13.2,-9.1" fill="#d92b34"/><ellipse cx="12.6" cy="0.9" rx="1.7" ry="2.0" fill="#1b1b1b"/><ellipse cx="12.9" cy="0.9" rx="0.8" ry="1.0" fill="#cfcfcf"/><ellipse cx="25.5" cy="-6.5" rx="1.7" ry="2.0" fill="#1b1b1b"/><ellipse cx="25.8" cy="-6.5" rx="0.8" ry="1.0" fill="#cfcfcf"/></g>
<g transform="translate(548.8,818.5) scale(1.032) translate(-14.7,10.2)"><polygon points="3.5,1.0 24.2,-11.0 34.6,-5.0 13.9,7.0" fill="#1c1824" fill-opacity="0.35"/><polygon points="8.7,-2.0 13.9,-5.0 13.9,0.5 8.7,3.5" fill="#186ba5"/><polygon points="0.0,-7.0 8.7,-2.0 8.7,3.5 0.0,-1.5" fill="#1b7bbe"/><polygon points="0.0,-7.0 5.2,-10.0 13.9,-5.0 8.7,-2.0" fill="#308fd2"/><polygon points="13.0,-9.5 29.4,-19.0 29.4,-8.5 13.0,1.0" fill="#186da9"/><polygon points="4.3,-14.5 13.0,-9.5 13.0,1.0 4.3,-4.0" fill="#1b78ba"/><polygon points="4.3,-14.5 20.8,-24.0 29.4,-19.0 13.0,-9.5" fill="#3492d3"/><polygon points="4.3,-14.0 13.0,-9.0 13.0,-5.0 4.3,-10.0" fill="#23232a"/><polygon points="13.9,-9.0 17.3,-11.0 17.3,-8.0 13.9,-6.0" fill="#2a2a32"/><ellipse cx="12.6" cy="0.9" rx="1.7" ry="2.0" fill="#1b1b1b"/><ellipse cx="12.9" cy="0.9" rx="0.8" ry="1.0" fill="#cfcfcf"/><ellipse cx="25.5" cy="-6.5" rx="1.7" ry="2.0" fill="#1b1b1b"/><ellipse cx="25.8" cy="-6.5" rx="0.8" ry="1.0" fill="#cfcfcf"/></g>
<g transform="translate(742.6,658.8) scale(1.046) translate(-14.7,8.0)"><polygon points="3.5,1.0 24.2,-11.0 34.6,-5.0 13.9,7.0" fill="#1c1824" fill-opacity="0.35"/><polygon points="8.7,-1.5 29.4,-13.5 29.4,-8.5 8.7,3.5" fill="#1768a1"/><polygon points="0.0,-6.5 8.7,-1.5 8.7,3.5 0.0,-1.5" fill="#1b78ba"/><polygon points="0.0,-6.5 20.8,-18.5 29.4,-13.5 8.7,-1.5" fill="#308fd2"/><polygon points="13.2,-9.1 24.0,-15.3 24.0,-11.1 13.2,-4.9" fill="#24242c"/><polygon points="5.9,-13.3 13.2,-9.1 13.2,-4.9 5.9,-9.1" fill="#2c2c34"/><polygon points="5.9,-13.3 16.7,-19.5 24.0,-15.3 13.2,-9.1" fill="#298cd1"/><ellipse cx="12.6" cy="0.9" rx="1.7" ry="2.0" fill="#1b1b1b"/><ellipse cx="12.9" cy="0.9" rx="0.8" ry="1.0" fill="#cfcfcf"/><ellipse cx="25.5" cy="-6.5" rx="1.7" ry="2.0" fill="#1b1b1b"/><ellipse cx="25.8" cy="-6.5" rx="0.8" ry="1.0" fill="#cfcfcf"/></g>
<g transform="translate(837.5,590.7) scale(0.805) translate(-14.7,8.0)"><polygon points="3.5,1.0 24.2,-11.0 34.6,-5.0 13.9,7.0" fill="#1c1824" fill-opacity="0.35"/><polygon points="8.7,-1.5 29.4,-13.5 29.4,-8.5 8.7,3.5" fill="#2d2d35"/><polygon points="0.0,-6.5 8.7,-1.5 8.7,3.5 0.0,-1.5" fill="#34343d"/><polygon points="0.0,-6.5 20.8,-18.5 29.4,-13.5 8.7,-1.5" fill="#494952"/><polygon points="13.2,-9.1 24.0,-15.3 24.0,-11.1 13.2,-4.9" fill="#24242c"/><polygon points="5.9,-13.3 13.2,-9.1 13.2,-4.9 5.9,-9.1" fill="#2c2c34"/><polygon points="5.9,-13.3 16.7,-19.5 24.0,-15.3 13.2,-9.1" fill="#43434d"/><ellipse cx="12.6" cy="0.9" rx="1.7" ry="2.0" fill="#1b1b1b"/><ellipse cx="12.9" cy="0.9" rx="0.8" ry="1.0" fill="#cfcfcf"/><ellipse cx="25.5" cy="-6.5" rx="1.7" ry="2.0" fill="#1b1b1b"/><ellipse cx="25.8" cy="-6.5" rx="0.8" ry="1.0" fill="#cfcfcf"/></g>
<g transform="translate(882.6,561.6) scale(1.019) translate(-14.7,10.2)"><polygon points="3.5,1.0 24.2,-11.0 34.6,-5.0 13.9,7.0" fill="#1c1824" fill-opacity="0.35"/><polygon points="8.7,-2.0 13.9,-5.0 13.9,0.5 8.7,3.5" fill="#c1c1c1"/><polygon points="0.0,-7.0 8.7,-2.0 8.7,3.5 0.0,-1.5" fill="#dedede"/><polygon points="0.0,-7.0 5.2,-10.0 13.9,-5.0 8.7,-2.0" fill="#f3f3f3"/><polygon points="13.0,-9.5 29.4,-19.0 29.4,-8.5 13.0,1.0" fill="#c6c6c6"/><polygon points="4.3,-14.5 13.0,-9.5 13.0,1.0 4.3,-4.0" fill="#d9d9d9"/><polygon points="4.3,-14.5 20.8,-24.0 29.4,-19.0 13.0,-9.5" fill="#f3f3f3"/><polygon points="4.3,-14.0 13.0,-9.0 13.0,-5.0 4.3,-10.0" fill="#23232a"/><polygon points="13.9,-9.0 17.3,-11.0 17.3,-8.0 13.9,-6.0" fill="#2a2a32"/><ellipse cx="12.6" cy="0.9" rx="1.7" ry="2.0" fill="#1b1b1b"/><ellipse cx="12.9" cy="0.9" rx="0.8" ry="1.0" fill="#cfcfcf"/><ellipse cx="25.5" cy="-6.5" rx="1.7" ry="2.0" fill="#1b1b1b"/><ellipse cx="25.8" cy="-6.5" rx="0.8" ry="1.0" fill="#cfcfcf"/></g>
<g transform="translate(941.3,541.0) scale(0.988) translate(-14.7,8.0)"><polygon points="3.5,1.0 24.2,-11.0 34.6,-5.0 13.9,7.0" fill="#1c1824" fill-opacity="0.35"/><polygon points="8.7,-1.5 29.4,-13.5 29.4,-8.5 8.7,3.5" fill="#bb4e20"/><polygon points="0.0,-6.5 8.7,-1.5 8.7,3.5 0.0,-1.5" fill="#d85a25"/><polygon points="0.0,-6.5 20.8,-18.5 29.4,-13.5 8.7,-1.5" fill="#f1703b"/><polygon points="13.2,-9.1 24.0,-15.3 24.0,-11.1 13.2,-4.9" fill="#24242c"/><polygon points="5.9,-13.3 13.2,-9.1 13.2,-4.9 5.9,-9.1" fill="#2c2c34"/><polygon points="5.9,-13.3 16.7,-19.5 24.0,-15.3 13.2,-9.1" fill="#f06b34"/><ellipse cx="12.6" cy="0.9" rx="1.7" ry="2.0" fill="#1b1b1b"/><ellipse cx="12.9" cy="0.9" rx="0.8" ry="1.0" fill="#cfcfcf"/><ellipse cx="25.5" cy="-6.5" rx="1.7" ry="2.0" fill="#1b1b1b"/><ellipse cx="25.8" cy="-6.5" rx="0.8" ry="1.0" fill="#cfcfcf"/></g>
<g transform="translate(973.2,574.8) scale(0.988) translate(-14.7,8.0)"><polygon points="3.5,1.0 24.2,-11.0 34.6,-5.0 13.9,7.0" fill="#1c1824" fill-opacity="0.35"/><polygon points="8.7,-1.5 29.4,-13.5 29.4,-8.5 8.7,3.5" fill="#306b23"/><polygon points="0.0,-6.5 8.7,-1.5 8.7,3.5 0.0,-1.5" fill="#377c29"/><polygon points="0.0,-6.5 20.8,-18.5 29.4,-13.5 8.7,-1.5" fill="#4d933e"/><polygon points="13.2,-9.1 24.0,-15.3 24.0,-11.1 13.2,-4.9" fill="#24242c"/><polygon points="5.9,-13.3 13.2,-9.1 13.2,-4.9 5.9,-9.1" fill="#2c2c34"/><polygon points="5.9,-13.3 16.7,-19.5 24.0,-15.3 13.2,-9.1" fill="#478f38"/><ellipse cx="12.6" cy="0.9" rx="1.7" ry="2.0" fill="#1b1b1b"/><ellipse cx="12.9" cy="0.9" rx="0.8" ry="1.0" fill="#cfcfcf"/><ellipse cx="25.5" cy="-6.5" rx="1.7" ry="2.0" fill="#1b1b1b"/><ellipse cx="25.8" cy="-6.5" rx="0.8" ry="1.0" fill="#cfcfcf"/></g>
<g transform="translate(919.0,608.0) scale(1.087) translate(-14.7,8.0)"><polygon points="3.5,1.0 24.2,-11.0 34.6,-5.0 13.9,7.0" fill="#1c1824" fill-opacity="0.35"/><polygon points="8.7,-1.5 29.4,-13.5 29.4,-8.5 8.7,3.5" fill="#1768a1"/><polygon points="0.0,-6.5 8.7,-1.5 8.7,3.5 0.0,-1.5" fill="#1b78ba"/><polygon points="0.0,-6.5 20.8,-18.5 29.4,-13.5 8.7,-1.5" fill="#308fd2"/><polygon points="13.2,-9.1 24.0,-15.3 24.0,-11.1 13.2,-4.9" fill="#24242c"/><polygon points="5.9,-13.3 13.2,-9.1 13.2,-4.9 5.9,-9.1" fill="#2c2c34"/><polygon points="5.9,-13.3 16.7,-19.5 24.0,-15.3 13.2,-9.1" fill="#298cd1"/><ellipse cx="12.6" cy="0.9" rx="1.7" ry="2.0" fill="#1b1b1b"/><ellipse cx="12.9" cy="0.9" rx="0.8" ry="1.0" fill="#cfcfcf"/><ellipse cx="25.5" cy="-6.5" rx="1.7" ry="2.0" fill="#1b1b1b"/><ellipse cx="25.8" cy="-6.5" rx="0.8" ry="1.0" fill="#cfcfcf"/></g>
<g transform="translate(1017.5,531.5) scale(0.992) translate(-14.7,8.0)"><polygon points="3.5,1.0 24.2,-11.0 34.6,-5.0 13.9,7.0" fill="#1c1824" fill-opacity="0.35"/><polygon points="8.7,-1.5 29.4,-13.5 29.4,-8.5 8.7,3.5" fill="#a81820"/><polygon points="0.0,-6.5 8.7,-1.5 8.7,3.5 0.0,-1.5" fill="#c21c25"/><polygon points="0.0,-6.5 20.8,-18.5 29.4,-13.5 8.7,-1.5" fill="#db313b"/><polygon points="13.2,-9.1 24.0,-15.3 24.0,-11.1 13.2,-4.9" fill="#24242c"/><polygon points="5.9,-13.3 13.2,-9.1 13.2,-4.9 5.9,-9.1" fill="#2c2c34"/><polygon points="5.9,-13.3 16.7,-19.5 24.0,-15.3 13.2,-9.1" fill="#d92b34"/><ellipse cx="12.6" cy="0.9" rx="1.7" ry="2.0" fill="#1b1b1b"/><ellipse cx="12.9" cy="0.9" rx="0.8" ry="1.0" fill="#cfcfcf"/><ellipse cx="25.5" cy="-6.5" rx="1.7" ry="2.0" fill="#1b1b1b"/><ellipse cx="25.8" cy="-6.5" rx="0.8" ry="1.0" fill="#cfcfcf"/></g>
<g transform="translate(1219.6,413.8) scale(0.992) translate(-14.7,10.2)"><polygon points="3.5,1.0 24.2,-11.0 34.6,-5.0 13.9,7.0" fill="#1c1824" fill-opacity="0.35"/><polygon points="8.7,-2.0 13.9,-5.0 13.9,0.5 8.7,3.5" fill="#8f7b2e"/><polygon points="0.0,-7.0 8.7,-2.0 8.7,3.5 0.0,-1.5" fill="#a48d35"/><polygon points="0.0,-7.0 5.2,-10.0 13.9,-5.0 8.7,-2.0" fill="#b9a249"/><polygon points="13.0,-9.5 29.4,-19.0 29.4,-8.5 13.0,1.0" fill="#927e2f"/><polygon points="4.3,-14.5 13.0,-9.5 13.0,1.0 4.3,-4.0" fill="#a18a34"/><polygon points="4.3,-14.5 20.8,-24.0 29.4,-19.0 13.0,-9.5" fill="#baa44d"/><polygon points="4.3,-14.0 13.0,-9.0 13.0,-5.0 4.3,-10.0" fill="#23232a"/><polygon points="13.9,-9.0 17.3,-11.0 17.3,-8.0 13.9,-6.0" fill="#2a2a32"/><ellipse cx="12.6" cy="0.9" rx="1.7" ry="2.0" fill="#1b1b1b"/><ellipse cx="12.9" cy="0.9" rx="0.8" ry="1.0" fill="#cfcfcf"/><ellipse cx="25.5" cy="-6.5" rx="1.7" ry="2.0" fill="#1b1b1b"/><ellipse cx="25.8" cy="-6.5" rx="0.8" ry="1.0" fill="#cfcfcf"/></g>
<g transform="translate(1528.0,252.0) scale(0.832) translate(-14.7,8.0)"><polygon points="3.5,1.0 24.2,-11.0 34.6,-5.0 13.9,7.0" fill="#1c1824" fill-opacity="0.35"/><polygon points="8.7,-1.5 29.4,-13.5 29.4,-8.5 8.7,3.5" fill="#2078ae"/><polygon points="0.0,-6.5 8.7,-1.5 8.7,3.5 0.0,-1.5" fill="#258ac9"/><polygon points="0.0,-6.5 20.8,-18.5 29.4,-13.5 8.7,-1.5" fill="#3ba2e2"/><polygon points="13.2,-9.1 24.0,-15.3 24.0,-11.1 13.2,-4.9" fill="#24242c"/><polygon points="5.9,-13.3 13.2,-9.1 13.2,-4.9 5.9,-9.1" fill="#2c2c34"/><polygon points="5.9,-13.3 16.7,-19.5 24.0,-15.3 13.2,-9.1" fill="#349fe1"/><ellipse cx="12.6" cy="0.9" rx="1.7" ry="2.0" fill="#1b1b1b"/><ellipse cx="12.9" cy="0.9" rx="0.8" ry="1.0" fill="#cfcfcf"/><ellipse cx="25.5" cy="-6.5" rx="1.7" ry="2.0" fill="#1b1b1b"/><ellipse cx="25.8" cy="-6.5" rx="0.8" ry="1.0" fill="#cfcfcf"/></g>
<rect x="242.1" y="574.6" width="74.9" height="50.1" rx="12" fill="#000" fill-opacity="0.42" filter="url(#fSh2)"/>
<rect x="237.1" y="567.6" width="70.9" height="46.1" rx="10" fill="#000" fill-opacity="0.45" filter="url(#fSh)"/>
<rect x="478.1" y="499.6" width="74.5" height="49.5" rx="12" fill="#000" fill-opacity="0.42" filter="url(#fSh2)"/>
<rect x="473.1" y="492.6" width="70.5" height="45.5" rx="10" fill="#000" fill-opacity="0.45" filter="url(#fSh)"/>
<rect x="672.9" y="453.8" width="92.6" height="68.9" rx="12" fill="#000" fill-opacity="0.42" filter="url(#fSh2)"/>
<rect x="667.9" y="446.8" width="88.6" height="64.9" rx="10" fill="#000" fill-opacity="0.45" filter="url(#fSh)"/>
<rect x="774.3" y="430.1" width="87.8" height="58.0" rx="12" fill="#000" fill-opacity="0.42" filter="url(#fSh2)"/>
<rect x="769.3" y="423.1" width="83.8" height="54.0" rx="10" fill="#000" fill-opacity="0.45" filter="url(#fSh)"/>
<rect x="721.3" y="328.0" width="160.2" height="70.3" rx="12" fill="#000" fill-opacity="0.42" filter="url(#fSh2)"/>
<rect x="716.3" y="321.0" width="156.2" height="66.3" rx="10" fill="#000" fill-opacity="0.45" filter="url(#fSh)"/>
<rect x="928.3" y="327.5" width="85.0" height="50.5" rx="12" fill="#000" fill-opacity="0.42" filter="url(#fSh2)"/>
<rect x="923.3" y="320.5" width="81.0" height="46.5" rx="10" fill="#000" fill-opacity="0.45" filter="url(#fSh)"/>
<rect x="1085.0" y="250.1" width="126.6" height="50.6" rx="12" fill="#000" fill-opacity="0.42" filter="url(#fSh2)"/>
<rect x="1080.0" y="243.1" width="122.6" height="46.6" rx="10" fill="#000" fill-opacity="0.45" filter="url(#fSh)"/>
<rect x="1223.7" y="139.6" width="192.6" height="89.9" rx="12" fill="#000" fill-opacity="0.42" filter="url(#fSh2)"/>
<rect x="1218.7" y="132.6" width="188.6" height="85.9" rx="10" fill="#000" fill-opacity="0.45" filter="url(#fSh)"/>
<rect x="1483.9" y="313.1" width="87.7" height="57.8" rx="12" fill="#000" fill-opacity="0.42" filter="url(#fSh2)"/>
<rect x="1478.9" y="306.1" width="83.7" height="53.8" rx="10" fill="#000" fill-opacity="0.45" filter="url(#fSh)"/>
<rect x="1122.4" y="525.0" width="87.8" height="48.8" rx="12" fill="#000" fill-opacity="0.42" filter="url(#fSh2)"/>
<rect x="1117.4" y="518.0" width="83.8" height="44.8" rx="10" fill="#000" fill-opacity="0.45" filter="url(#fSh)"/>
<polyline points="233.1,601.0 176.1,651.6" fill="none" stroke="#f1efdc" stroke-width="1.2"/>
<circle cx="176.1" cy="651.6" r="3.6" fill="#fff"/>
<polyline points="285.8,606.8 264.7,733.2" fill="none" stroke="#f1efdc" stroke-width="1.2"/>
<circle cx="264.7" cy="733.2" r="3.6" fill="#fff"/>
<polyline points="477.9,532.0 440.3,576.3" fill="none" stroke="#f1efdc" stroke-width="1.2"/>
<circle cx="440.3" cy="576.3" r="3.6" fill="#fff"/>
<polyline points="537.2,528.6 573.1,550.0" fill="none" stroke="#f1efdc" stroke-width="1.2"/>
<circle cx="573.1" cy="550.0" r="3.6" fill="#fff"/>
<polyline points="751.8,487.4 898.7,510.5 941.2,499.1" fill="none" stroke="#f1efdc" stroke-width="1.2"/>
<circle cx="941.2" cy="499.1" r="3.6" fill="#fff"/>
<polyline points="847.7,466.8 900.4,488.2" fill="none" stroke="#f1efdc" stroke-width="1.2"/>
<circle cx="900.4" cy="488.2" r="3.6" fill="#fff"/>
<polyline points="827.6,381.8 884.5,449.4" fill="none" stroke="#f1efdc" stroke-width="1.2"/>
<circle cx="884.5" cy="449.4" r="3.6" fill="#fff"/>
<polyline points="945.5,360.0 911.2,435.6" fill="none" stroke="#f1efdc" stroke-width="1.2"/>
<circle cx="911.2" cy="435.6" r="3.6" fill="#fff"/>
<polyline points="1134.3,282.7 1156.8,346.3" fill="none" stroke="#f1efdc" stroke-width="1.2"/>
<circle cx="1156.8" cy="346.3" r="3.6" fill="#fff"/>
<polyline points="1305.1,211.5 1371.0,248.2" fill="none" stroke="#f1efdc" stroke-width="1.2"/>
<circle cx="1371.0" cy="248.2" r="3.6" fill="#fff"/>
<polyline points="1474.0,312.1 1406.7,276.4" fill="none" stroke="#f1efdc" stroke-width="1.2"/>
<circle cx="1406.7" cy="276.4" r="3.6" fill="#fff"/>
<polyline points="1113.9,512.5 1087.4,464.2" fill="none" stroke="#f1efdc" stroke-width="1.2"/>
<circle cx="1087.4" cy="464.2" r="3.6" fill="#fff"/>
<rect x="233.1" y="561.6" width="68.9" height="44.1" rx="9" fill="url(#gRd)" stroke="#161616" stroke-width="2"/>
<text x="267.6" y="579.6" font-size="18.6" fill="#fff" text-anchor="middle" textLength="42.0" lengthAdjust="spacingAndGlyphs">Static</text>
<text x="267.6" y="598.6" font-size="18.6" fill="#fff" text-anchor="middle" textLength="46.5" lengthAdjust="spacingAndGlyphs">Scales</text>
<rect x="469.1" y="486.6" width="68.5" height="43.5" rx="9" fill="url(#gOr)" stroke="#161616" stroke-width="2"/>
<text x="503.1" y="502.9" font-size="18.6" fill="#111" text-anchor="middle" textLength="31.0" lengthAdjust="spacingAndGlyphs">Sort</text>
<text x="503.1" y="521.7" font-size="18.6" fill="#111" text-anchor="middle" textLength="53.6" lengthAdjust="spacingAndGlyphs">Signals</text>
<rect x="663.9" y="440.8" width="86.6" height="62.9" rx="9" fill="url(#gBl)" stroke="#161616" stroke-width="2"/>
<text x="706.9" y="460.4" font-size="18.6" fill="#fff" text-anchor="middle" textLength="66.2" lengthAdjust="spacingAndGlyphs">Mainline</text>
<text x="706.9" y="479.2" font-size="18.6" fill="#fff" text-anchor="middle" textLength="73.4" lengthAdjust="spacingAndGlyphs">Overview</text>
<text x="706.9" y="498.0" font-size="18.6" fill="#fff" text-anchor="middle" textLength="58.9" lengthAdjust="spacingAndGlyphs">Camera</text>
<rect x="765.3" y="417.1" width="81.8" height="52.0" rx="9" fill="url(#gOr)" stroke="#161616" stroke-width="2"/>
<text x="806.2" y="439.1" font-size="18.6" fill="#111" text-anchor="middle" textLength="34.0" lengthAdjust="spacingAndGlyphs">WIM</text>
<text x="806.5" y="457.7" font-size="18.6" fill="#111" text-anchor="middle" textLength="46.8" lengthAdjust="spacingAndGlyphs">Scales</text>
<rect x="712.3" y="315.0" width="154.2" height="64.3" rx="9" fill="url(#gOr)" stroke="#161616" stroke-width="2"/>
<text x="789.4" y="334.7" font-size="18.6" fill="#111" text-anchor="middle" textLength="91.4" lengthAdjust="spacingAndGlyphs">LPR Camera</text>
<text x="789.4" y="353.0" font-size="18.6" fill="#111" text-anchor="middle" textLength="118.6" lengthAdjust="spacingAndGlyphs">USDOT Camera</text>
<text x="789.2" y="371.8" font-size="18.6" fill="#111" text-anchor="middle" textLength="137.0" lengthAdjust="spacingAndGlyphs">Overview Camera</text>
<rect x="919.3" y="314.5" width="79.0" height="44.5" rx="9" fill="url(#gOr)" stroke="#161616" stroke-width="2"/>
<text x="959.4" y="342.6" font-size="18.6" fill="#111" text-anchor="middle" textLength="41.4" lengthAdjust="spacingAndGlyphs">VDIM</text>
<rect x="1076.0" y="237.1" width="120.6" height="44.6" rx="9" fill="url(#gBl)" stroke="#161616" stroke-width="2"/>
<text x="1136.9" y="255.1" font-size="18.6" fill="#fff" text-anchor="middle" textLength="102.9" lengthAdjust="spacingAndGlyphs">Mainline Sort</text>
<text x="1136.9" y="274.2" font-size="18.6" fill="#fff" text-anchor="middle" textLength="35.7" lengthAdjust="spacingAndGlyphs">DMS</text>
<rect x="1214.7" y="126.6" width="186.6" height="83.9" rx="9" fill="url(#gBl)" stroke="#161616" stroke-width="2"/>
<text x="1309.6" y="145.5" font-size="18.6" fill="#fff" text-anchor="middle" textLength="34.9" lengthAdjust="spacingAndGlyphs">OVD</text>
<text x="1307.7" y="164.2" font-size="18.6" fill="#fff" text-anchor="middle" textLength="90.8" lengthAdjust="spacingAndGlyphs">LPR Camera</text>
<text x="1307.7" y="182.9" font-size="18.6" fill="#fff" text-anchor="middle" textLength="117.0" lengthAdjust="spacingAndGlyphs">USDOT Camera</text>
<text x="1307.7" y="201.5" font-size="18.6" fill="#fff" text-anchor="middle" textLength="137.0" lengthAdjust="spacingAndGlyphs">Overview Camera</text>
<rect x="1474.9" y="300.1" width="81.7" height="51.8" rx="9" fill="url(#gBl)" stroke="#161616" stroke-width="2"/>
<text x="1516.0" y="322.9" font-size="18.6" fill="#fff" text-anchor="middle" textLength="34.4" lengthAdjust="spacingAndGlyphs">WIM</text>
<text x="1516.2" y="341.6" font-size="18.6" fill="#fff" text-anchor="middle" textLength="46.4" lengthAdjust="spacingAndGlyphs">Scales</text>
<rect x="1113.4" y="512.0" width="81.8" height="42.8" rx="9" fill="url(#gBl)" stroke="#161616" stroke-width="2"/>
<text x="1154.5" y="531.7" font-size="18.6" fill="#fff" text-anchor="middle" textLength="55.5" lengthAdjust="spacingAndGlyphs">Vehicle</text>
<text x="1154.6" y="550.8" font-size="18.6" fill="#fff" text-anchor="middle" textLength="59.2" lengthAdjust="spacingAndGlyphs">Sensors</text>
<rect x="837.7" y="722.1" width="340.4" height="172.1" fill="#fff" stroke="#8a8a8a" stroke-width="1.2"/>
<rect x="853.6" y="732.9" width="20.8" height="11.6" fill="url(#gBl)"/>
<rect x="853.6" y="752.8" width="20.8" height="11.8" fill="url(#gOr)"/>
<rect x="853.6" y="772.3" width="20.8" height="11.8" fill="url(#gRd)"/>
<text x="906.9" y="744.5" font-size="16.3" fill="#231f20" textLength="58.6" lengthAdjust="spacingAndGlyphs">Mainline</text>
<text x="906.9" y="764.2" font-size="16.3" fill="#231f20" textLength="45.9" lengthAdjust="spacingAndGlyphs">Ramps</text>
<text x="906.9" y="784.5" font-size="16.3" fill="#231f20" textLength="48.3" lengthAdjust="spacingAndGlyphs">Station</text>
<text x="906.9" y="804.2" font-size="16.3" fill="#231f20" textLength="254.9" lengthAdjust="spacingAndGlyphs">Overheight Vehicle Detection System</text>
<text x="906.9" y="823.6" font-size="16.3" fill="#231f20" textLength="231.3" lengthAdjust="spacingAndGlyphs">License Plate Recognition Camera</text>
<text x="906.9" y="843.5" font-size="16.3" fill="#231f20" textLength="158.0" lengthAdjust="spacingAndGlyphs">Dynamic Message Sign</text>
<text x="906.9" y="863.6" font-size="16.3" fill="#231f20" textLength="113.2" lengthAdjust="spacingAndGlyphs">Weigh in Motion</text>
<text x="909.8" y="883.3" font-size="16.3" fill="#231f20" textLength="202.6" lengthAdjust="spacingAndGlyphs">Vehicle Dimensioning System</text>
<text x="853.0" y="804.2" font-size="16.3" fill="#231f20" textLength="31.7" lengthAdjust="spacingAndGlyphs">OVD</text>
<text x="853.0" y="823.6" font-size="16.3" fill="#231f20" textLength="25.1" lengthAdjust="spacingAndGlyphs">LPR</text>
<text x="853.0" y="843.5" font-size="16.3" fill="#231f20" textLength="31.7" lengthAdjust="spacingAndGlyphs">DMS</text>
<text x="853.0" y="863.6" font-size="16.3" fill="#231f20" textLength="30.6" lengthAdjust="spacingAndGlyphs">WIM</text>
<text x="853.0" y="883.3" font-size="16.3" fill="#231f20" textLength="37.2" lengthAdjust="spacingAndGlyphs">VDIM</text>
</svg>
</body></html>
